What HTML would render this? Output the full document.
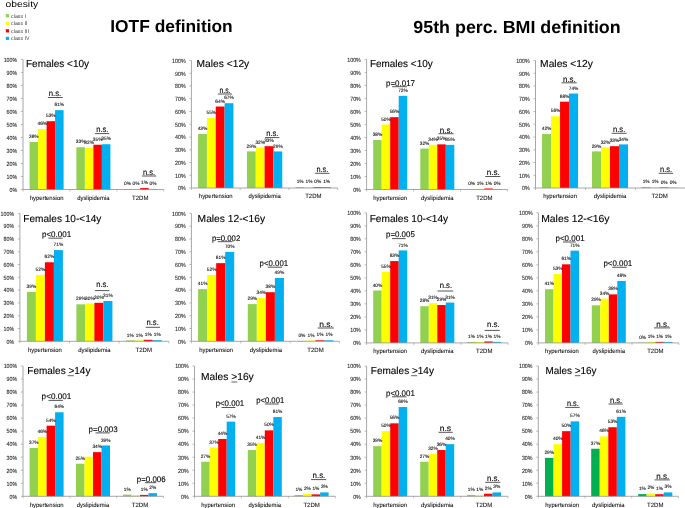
<!DOCTYPE html>
<html><head><meta charset="utf-8"><title>Obesity comorbidities</title>
<style>
html,body{margin:0;padding:0;background:#fff;}
body{width:685px;height:508px;overflow:hidden;font-family:"Liberation Sans",sans-serif;}
svg{display:block;}
svg text{font-family:"Liberation Sans",sans-serif;text-rendering:geometricPrecision;}
</style></head><body>
<svg width="685" height="508" viewBox="0 0 685 508">
<rect x="0" y="0" width="685" height="508" fill="#ffffff"/>
<g style="will-change:transform">
<rect x="29.60" y="142.01" width="8.50" height="47.49" fill="#92d050"/>
<rect x="38.10" y="129.00" width="8.50" height="60.50" fill="#ffff00"/>
<rect x="46.60" y="121.20" width="8.50" height="68.30" fill="#ff0000"/>
<rect x="55.10" y="110.14" width="8.50" height="79.36" fill="#00b0f0"/>
<rect x="76.40" y="147.22" width="8.50" height="42.28" fill="#92d050"/>
<rect x="84.90" y="147.87" width="8.50" height="41.63" fill="#ffff00"/>
<rect x="93.40" y="144.75" width="8.50" height="44.75" fill="#ff0000"/>
<rect x="101.90" y="144.23" width="8.50" height="45.27" fill="#00b0f0"/>
<rect x="123.20" y="189.11" width="8.50" height="0.39" fill="#92d050"/>
<rect x="131.70" y="189.11" width="8.50" height="0.39" fill="#ffff00"/>
<rect x="140.20" y="188.07" width="8.50" height="1.43" fill="#ff0000"/>
<rect x="148.70" y="189.24" width="8.50" height="0.26" fill="#00b0f0"/>
<line x1="23.00" y1="59.40" x2="23.00" y2="189.50" stroke="#909090" stroke-width="0.8"/>
<line x1="23.00" y1="189.50" x2="163.80" y2="189.50" stroke="#909090" stroke-width="0.8"/>
<line x1="20.90" y1="189.50" x2="23.00" y2="189.50" stroke="#909090" stroke-width="0.6"/>
<text x="9.54" y="192.00" font-size="6.0" fill="#222" textLength="7.66" lengthAdjust="spacingAndGlyphs" stroke="#222" stroke-width="0.08">0%</text>
<line x1="20.90" y1="176.49" x2="23.00" y2="176.49" stroke="#909090" stroke-width="0.6"/>
<text x="6.59" y="179.00" font-size="6.0" fill="#222" textLength="10.61" lengthAdjust="spacingAndGlyphs" stroke="#222" stroke-width="0.08">10%</text>
<line x1="20.90" y1="163.48" x2="23.00" y2="163.48" stroke="#909090" stroke-width="0.6"/>
<text x="6.59" y="166.00" font-size="6.0" fill="#222" textLength="10.61" lengthAdjust="spacingAndGlyphs" stroke="#222" stroke-width="0.08">20%</text>
<line x1="20.90" y1="150.47" x2="23.00" y2="150.47" stroke="#909090" stroke-width="0.6"/>
<text x="6.59" y="153.00" font-size="6.0" fill="#222" textLength="10.61" lengthAdjust="spacingAndGlyphs" stroke="#222" stroke-width="0.08">30%</text>
<line x1="20.90" y1="137.46" x2="23.00" y2="137.46" stroke="#909090" stroke-width="0.6"/>
<text x="6.59" y="140.00" font-size="6.0" fill="#222" textLength="10.61" lengthAdjust="spacingAndGlyphs" stroke="#222" stroke-width="0.08">40%</text>
<line x1="20.90" y1="124.45" x2="23.00" y2="124.45" stroke="#909090" stroke-width="0.6"/>
<text x="6.59" y="127.00" font-size="6.0" fill="#222" textLength="10.61" lengthAdjust="spacingAndGlyphs" stroke="#222" stroke-width="0.08">50%</text>
<line x1="20.90" y1="111.44" x2="23.00" y2="111.44" stroke="#909090" stroke-width="0.6"/>
<text x="6.59" y="114.00" font-size="6.0" fill="#222" textLength="10.61" lengthAdjust="spacingAndGlyphs" stroke="#222" stroke-width="0.08">60%</text>
<line x1="20.90" y1="98.43" x2="23.00" y2="98.43" stroke="#909090" stroke-width="0.6"/>
<text x="6.59" y="101.00" font-size="6.0" fill="#222" textLength="10.61" lengthAdjust="spacingAndGlyphs" stroke="#222" stroke-width="0.08">70%</text>
<line x1="20.90" y1="85.42" x2="23.00" y2="85.42" stroke="#909090" stroke-width="0.6"/>
<text x="6.59" y="88.00" font-size="6.0" fill="#222" textLength="10.61" lengthAdjust="spacingAndGlyphs" stroke="#222" stroke-width="0.08">80%</text>
<line x1="20.90" y1="72.41" x2="23.00" y2="72.41" stroke="#909090" stroke-width="0.6"/>
<text x="6.59" y="75.00" font-size="6.0" fill="#222" textLength="10.61" lengthAdjust="spacingAndGlyphs" stroke="#222" stroke-width="0.08">90%</text>
<line x1="20.90" y1="59.40" x2="23.00" y2="59.40" stroke="#909090" stroke-width="0.6"/>
<text x="3.65" y="62.00" font-size="6.0" fill="#222" textLength="13.55" lengthAdjust="spacingAndGlyphs" stroke="#222" stroke-width="0.08">100%</text>
<line x1="23.00" y1="189.50" x2="23.00" y2="191.50" stroke="#909090" stroke-width="0.6"/>
<line x1="69.93" y1="189.50" x2="69.93" y2="191.50" stroke="#909090" stroke-width="0.6"/>
<line x1="116.87" y1="189.50" x2="116.87" y2="191.50" stroke="#909090" stroke-width="0.6"/>
<line x1="163.80" y1="189.50" x2="163.80" y2="191.50" stroke="#909090" stroke-width="0.6"/>
<text x="29.70" y="199.80" font-size="6.2" fill="#111" textLength="33.80" lengthAdjust="spacingAndGlyphs" stroke="#111" stroke-width="0.08">hypertension</text>
<text x="77.20" y="199.80" font-size="6.2" fill="#111" textLength="32.40" lengthAdjust="spacingAndGlyphs" stroke="#111" stroke-width="0.08">dyslipidemia</text>
<text x="132.00" y="199.80" font-size="6.2" fill="#111" textLength="16.40" lengthAdjust="spacingAndGlyphs" stroke="#111" stroke-width="0.08">T2DM</text>
<text x="33.85" y="138.11" font-size="4.8" fill="#111" text-anchor="middle" stroke="#111" stroke-width="0.1">36%</text>
<text x="42.35" y="125.10" font-size="4.8" fill="#111" text-anchor="middle" stroke="#111" stroke-width="0.1">46%</text>
<text x="50.85" y="117.30" font-size="4.8" fill="#111" text-anchor="middle" stroke="#111" stroke-width="0.1">53%</text>
<text x="59.35" y="106.24" font-size="4.8" fill="#111" text-anchor="middle" stroke="#111" stroke-width="0.1">61%</text>
<text x="80.65" y="143.32" font-size="4.8" fill="#111" text-anchor="middle" stroke="#111" stroke-width="0.1">33%</text>
<text x="89.15" y="143.97" font-size="4.8" fill="#111" text-anchor="middle" stroke="#111" stroke-width="0.1">32%</text>
<text x="97.65" y="140.85" font-size="4.8" fill="#111" text-anchor="middle" stroke="#111" stroke-width="0.1">35%</text>
<text x="106.15" y="140.33" font-size="4.8" fill="#111" text-anchor="middle" stroke="#111" stroke-width="0.1">35%</text>
<text x="127.45" y="185.21" font-size="4.8" fill="#111" text-anchor="middle" stroke="#111" stroke-width="0.1">0%</text>
<text x="135.95" y="185.21" font-size="4.8" fill="#111" text-anchor="middle" stroke="#111" stroke-width="0.1">0%</text>
<text x="144.45" y="184.17" font-size="4.8" fill="#111" text-anchor="middle" stroke="#111" stroke-width="0.1">1%</text>
<text x="152.95" y="185.34" font-size="4.8" fill="#111" text-anchor="middle" stroke="#111" stroke-width="0.1">0%</text>
<text x="26.00" y="67.00" font-size="10.2" fill="#000" textLength="63.10" lengthAdjust="spacingAndGlyphs" stroke="#000" stroke-width="0.12">Females &lt;10y</text>
<text x="48.70" y="96.35" font-size="8.2" fill="#000" textLength="12.50" lengthAdjust="spacingAndGlyphs" stroke="#000" stroke-width="0.12">n.s.</text>
<line x1="47.90" y1="97.50" x2="62.70" y2="97.50" stroke="#2a2a2a" stroke-width="0.8"/>
<text x="96.20" y="132.45" font-size="8.2" fill="#000" textLength="12.30" lengthAdjust="spacingAndGlyphs" stroke="#000" stroke-width="0.12">n.s.</text>
<line x1="95.00" y1="133.60" x2="109.30" y2="133.60" stroke="#2a2a2a" stroke-width="0.8"/>
<text x="142.90" y="174.85" font-size="8.2" fill="#000" textLength="12.10" lengthAdjust="spacingAndGlyphs" stroke="#000" stroke-width="0.12">n.s.</text>
<line x1="141.90" y1="176.00" x2="156.20" y2="176.00" stroke="#2a2a2a" stroke-width="0.8"/>
<rect x="198.10" y="134.07" width="8.83" height="53.93" fill="#92d050"/>
<rect x="206.93" y="118.00" width="8.83" height="70.00" fill="#ffff00"/>
<rect x="215.76" y="106.53" width="8.83" height="81.47" fill="#ff0000"/>
<rect x="224.59" y="103.21" width="8.83" height="84.79" fill="#00b0f0"/>
<rect x="246.95" y="151.41" width="8.83" height="36.59" fill="#92d050"/>
<rect x="255.78" y="147.45" width="8.83" height="40.55" fill="#ffff00"/>
<rect x="264.61" y="146.18" width="8.83" height="41.82" fill="#ff0000"/>
<rect x="273.44" y="151.41" width="8.83" height="36.59" fill="#00b0f0"/>
<rect x="295.70" y="187.11" width="8.83" height="0.89" fill="#92d050"/>
<rect x="304.53" y="187.11" width="8.83" height="0.89" fill="#ffff00"/>
<rect x="313.36" y="187.24" width="8.83" height="0.77" fill="#ff0000"/>
<rect x="322.19" y="187.11" width="8.83" height="0.89" fill="#00b0f0"/>
<line x1="191.40" y1="60.50" x2="191.40" y2="188.00" stroke="#909090" stroke-width="0.8"/>
<line x1="191.40" y1="188.00" x2="337.70" y2="188.00" stroke="#909090" stroke-width="0.8"/>
<line x1="189.30" y1="188.00" x2="191.40" y2="188.00" stroke="#909090" stroke-width="0.6"/>
<text x="177.94" y="190.00" font-size="6.0" fill="#222" textLength="7.66" lengthAdjust="spacingAndGlyphs" stroke="#222" stroke-width="0.08">0%</text>
<line x1="189.30" y1="175.25" x2="191.40" y2="175.25" stroke="#909090" stroke-width="0.6"/>
<text x="174.99" y="178.00" font-size="6.0" fill="#222" textLength="10.61" lengthAdjust="spacingAndGlyphs" stroke="#222" stroke-width="0.08">10%</text>
<line x1="189.30" y1="162.50" x2="191.40" y2="162.50" stroke="#909090" stroke-width="0.6"/>
<text x="174.99" y="165.00" font-size="6.0" fill="#222" textLength="10.61" lengthAdjust="spacingAndGlyphs" stroke="#222" stroke-width="0.08">20%</text>
<line x1="189.30" y1="149.75" x2="191.40" y2="149.75" stroke="#909090" stroke-width="0.6"/>
<text x="174.99" y="152.00" font-size="6.0" fill="#222" textLength="10.61" lengthAdjust="spacingAndGlyphs" stroke="#222" stroke-width="0.08">30%</text>
<line x1="189.30" y1="137.00" x2="191.40" y2="137.00" stroke="#909090" stroke-width="0.6"/>
<text x="174.99" y="139.00" font-size="6.0" fill="#222" textLength="10.61" lengthAdjust="spacingAndGlyphs" stroke="#222" stroke-width="0.08">40%</text>
<line x1="189.30" y1="124.25" x2="191.40" y2="124.25" stroke="#909090" stroke-width="0.6"/>
<text x="174.99" y="127.00" font-size="6.0" fill="#222" textLength="10.61" lengthAdjust="spacingAndGlyphs" stroke="#222" stroke-width="0.08">50%</text>
<line x1="189.30" y1="111.50" x2="191.40" y2="111.50" stroke="#909090" stroke-width="0.6"/>
<text x="174.99" y="114.00" font-size="6.0" fill="#222" textLength="10.61" lengthAdjust="spacingAndGlyphs" stroke="#222" stroke-width="0.08">60%</text>
<line x1="189.30" y1="98.75" x2="191.40" y2="98.75" stroke="#909090" stroke-width="0.6"/>
<text x="174.99" y="101.00" font-size="6.0" fill="#222" textLength="10.61" lengthAdjust="spacingAndGlyphs" stroke="#222" stroke-width="0.08">70%</text>
<line x1="189.30" y1="86.00" x2="191.40" y2="86.00" stroke="#909090" stroke-width="0.6"/>
<text x="174.99" y="88.00" font-size="6.0" fill="#222" textLength="10.61" lengthAdjust="spacingAndGlyphs" stroke="#222" stroke-width="0.08">80%</text>
<line x1="189.30" y1="73.25" x2="191.40" y2="73.25" stroke="#909090" stroke-width="0.6"/>
<text x="174.99" y="76.00" font-size="6.0" fill="#222" textLength="10.61" lengthAdjust="spacingAndGlyphs" stroke="#222" stroke-width="0.08">90%</text>
<line x1="189.30" y1="60.50" x2="191.40" y2="60.50" stroke="#909090" stroke-width="0.6"/>
<text x="172.05" y="63.00" font-size="6.0" fill="#222" textLength="13.55" lengthAdjust="spacingAndGlyphs" stroke="#222" stroke-width="0.08">100%</text>
<line x1="191.40" y1="188.00" x2="191.40" y2="190.00" stroke="#909090" stroke-width="0.6"/>
<line x1="240.17" y1="188.00" x2="240.17" y2="190.00" stroke="#909090" stroke-width="0.6"/>
<line x1="288.93" y1="188.00" x2="288.93" y2="190.00" stroke="#909090" stroke-width="0.6"/>
<line x1="337.70" y1="188.00" x2="337.70" y2="190.00" stroke="#909090" stroke-width="0.6"/>
<text x="198.86" y="198.30" font-size="6.2" fill="#111" textLength="33.80" lengthAdjust="spacingAndGlyphs" stroke="#111" stroke-width="0.08">hypertension</text>
<text x="248.41" y="198.30" font-size="6.2" fill="#111" textLength="32.40" lengthAdjust="spacingAndGlyphs" stroke="#111" stroke-width="0.08">dyslipidemia</text>
<text x="305.16" y="198.30" font-size="6.2" fill="#111" textLength="16.40" lengthAdjust="spacingAndGlyphs" stroke="#111" stroke-width="0.08">T2DM</text>
<text x="202.51" y="130.17" font-size="4.8" fill="#111" text-anchor="middle" stroke="#111" stroke-width="0.1">43%</text>
<text x="211.34" y="114.10" font-size="4.8" fill="#111" text-anchor="middle" stroke="#111" stroke-width="0.1">55%</text>
<text x="220.17" y="102.63" font-size="4.8" fill="#111" text-anchor="middle" stroke="#111" stroke-width="0.1">64%</text>
<text x="229.00" y="99.31" font-size="4.8" fill="#111" text-anchor="middle" stroke="#111" stroke-width="0.1">67%</text>
<text x="251.36" y="147.51" font-size="4.8" fill="#111" text-anchor="middle" stroke="#111" stroke-width="0.1">29%</text>
<text x="260.19" y="143.55" font-size="4.8" fill="#111" text-anchor="middle" stroke="#111" stroke-width="0.1">32%</text>
<text x="269.02" y="142.28" font-size="4.8" fill="#111" text-anchor="middle" stroke="#111" stroke-width="0.1">33%</text>
<text x="277.86" y="147.51" font-size="4.8" fill="#111" text-anchor="middle" stroke="#111" stroke-width="0.1">29%</text>
<text x="300.12" y="183.21" font-size="4.8" fill="#111" text-anchor="middle" stroke="#111" stroke-width="0.1">1%</text>
<text x="308.94" y="183.21" font-size="4.8" fill="#111" text-anchor="middle" stroke="#111" stroke-width="0.1">1%</text>
<text x="317.77" y="183.34" font-size="4.8" fill="#111" text-anchor="middle" stroke="#111" stroke-width="0.1">0%</text>
<text x="326.61" y="183.21" font-size="4.8" fill="#111" text-anchor="middle" stroke="#111" stroke-width="0.1">1%</text>
<text x="196.60" y="67.00" font-size="10.2" fill="#000" textLength="52.60" lengthAdjust="spacingAndGlyphs" stroke="#000" stroke-width="0.12">Males &lt;12y</text>
<text x="219.40" y="92.85" font-size="8.2" fill="#000" textLength="11.10" lengthAdjust="spacingAndGlyphs" stroke="#000" stroke-width="0.12">n.s.</text>
<line x1="217.90" y1="94.00" x2="232.00" y2="94.00" stroke="#2a2a2a" stroke-width="0.8"/>
<text x="266.20" y="136.45" font-size="8.2" fill="#000" textLength="12.30" lengthAdjust="spacingAndGlyphs" stroke="#000" stroke-width="0.12">n.s.</text>
<line x1="265.00" y1="137.60" x2="279.30" y2="137.60" stroke="#2a2a2a" stroke-width="0.8"/>
<text x="316.50" y="172.15" font-size="8.2" fill="#000" textLength="11.80" lengthAdjust="spacingAndGlyphs" stroke="#000" stroke-width="0.12">n.s.</text>
<line x1="315.20" y1="173.30" x2="329.50" y2="173.30" stroke="#2a2a2a" stroke-width="0.8"/>
<rect x="373.20" y="140.06" width="8.50" height="49.44" fill="#92d050"/>
<rect x="381.70" y="124.45" width="8.50" height="65.05" fill="#ffff00"/>
<rect x="390.20" y="117.16" width="8.50" height="72.34" fill="#ff0000"/>
<rect x="398.70" y="95.83" width="8.50" height="93.67" fill="#00b0f0"/>
<rect x="420.30" y="148.52" width="8.50" height="40.98" fill="#92d050"/>
<rect x="428.80" y="144.88" width="8.50" height="44.62" fill="#ffff00"/>
<rect x="437.30" y="144.36" width="8.50" height="45.14" fill="#ff0000"/>
<rect x="445.80" y="144.88" width="8.50" height="44.62" fill="#00b0f0"/>
<rect x="467.40" y="189.24" width="8.50" height="0.26" fill="#92d050"/>
<rect x="475.90" y="188.85" width="8.50" height="0.65" fill="#ffff00"/>
<rect x="484.40" y="188.46" width="8.50" height="1.04" fill="#ff0000"/>
<rect x="492.90" y="189.24" width="8.50" height="0.26" fill="#00b0f0"/>
<line x1="366.60" y1="59.40" x2="366.60" y2="189.50" stroke="#909090" stroke-width="0.8"/>
<line x1="366.60" y1="189.50" x2="507.60" y2="189.50" stroke="#909090" stroke-width="0.8"/>
<line x1="364.50" y1="189.50" x2="366.60" y2="189.50" stroke="#909090" stroke-width="0.6"/>
<text x="353.14" y="192.00" font-size="6.0" fill="#222" textLength="7.66" lengthAdjust="spacingAndGlyphs" stroke="#222" stroke-width="0.08">0%</text>
<line x1="364.50" y1="176.49" x2="366.60" y2="176.49" stroke="#909090" stroke-width="0.6"/>
<text x="350.19" y="179.00" font-size="6.0" fill="#222" textLength="10.61" lengthAdjust="spacingAndGlyphs" stroke="#222" stroke-width="0.08">10%</text>
<line x1="364.50" y1="163.48" x2="366.60" y2="163.48" stroke="#909090" stroke-width="0.6"/>
<text x="350.19" y="166.00" font-size="6.0" fill="#222" textLength="10.61" lengthAdjust="spacingAndGlyphs" stroke="#222" stroke-width="0.08">20%</text>
<line x1="364.50" y1="150.47" x2="366.60" y2="150.47" stroke="#909090" stroke-width="0.6"/>
<text x="350.19" y="153.00" font-size="6.0" fill="#222" textLength="10.61" lengthAdjust="spacingAndGlyphs" stroke="#222" stroke-width="0.08">30%</text>
<line x1="364.50" y1="137.46" x2="366.60" y2="137.46" stroke="#909090" stroke-width="0.6"/>
<text x="350.19" y="140.00" font-size="6.0" fill="#222" textLength="10.61" lengthAdjust="spacingAndGlyphs" stroke="#222" stroke-width="0.08">40%</text>
<line x1="364.50" y1="124.45" x2="366.60" y2="124.45" stroke="#909090" stroke-width="0.6"/>
<text x="350.19" y="127.00" font-size="6.0" fill="#222" textLength="10.61" lengthAdjust="spacingAndGlyphs" stroke="#222" stroke-width="0.08">50%</text>
<line x1="364.50" y1="111.44" x2="366.60" y2="111.44" stroke="#909090" stroke-width="0.6"/>
<text x="350.19" y="114.00" font-size="6.0" fill="#222" textLength="10.61" lengthAdjust="spacingAndGlyphs" stroke="#222" stroke-width="0.08">60%</text>
<line x1="364.50" y1="98.43" x2="366.60" y2="98.43" stroke="#909090" stroke-width="0.6"/>
<text x="350.19" y="101.00" font-size="6.0" fill="#222" textLength="10.61" lengthAdjust="spacingAndGlyphs" stroke="#222" stroke-width="0.08">70%</text>
<line x1="364.50" y1="85.42" x2="366.60" y2="85.42" stroke="#909090" stroke-width="0.6"/>
<text x="350.19" y="88.00" font-size="6.0" fill="#222" textLength="10.61" lengthAdjust="spacingAndGlyphs" stroke="#222" stroke-width="0.08">80%</text>
<line x1="364.50" y1="72.41" x2="366.60" y2="72.41" stroke="#909090" stroke-width="0.6"/>
<text x="350.19" y="75.00" font-size="6.0" fill="#222" textLength="10.61" lengthAdjust="spacingAndGlyphs" stroke="#222" stroke-width="0.08">90%</text>
<line x1="364.50" y1="59.40" x2="366.60" y2="59.40" stroke="#909090" stroke-width="0.6"/>
<text x="347.25" y="62.00" font-size="6.0" fill="#222" textLength="13.55" lengthAdjust="spacingAndGlyphs" stroke="#222" stroke-width="0.08">100%</text>
<line x1="366.60" y1="189.50" x2="366.60" y2="191.50" stroke="#909090" stroke-width="0.6"/>
<line x1="413.60" y1="189.50" x2="413.60" y2="191.50" stroke="#909090" stroke-width="0.6"/>
<line x1="460.60" y1="189.50" x2="460.60" y2="191.50" stroke="#909090" stroke-width="0.6"/>
<line x1="507.60" y1="189.50" x2="507.60" y2="191.50" stroke="#909090" stroke-width="0.6"/>
<text x="373.30" y="199.80" font-size="6.2" fill="#111" textLength="33.80" lengthAdjust="spacingAndGlyphs" stroke="#111" stroke-width="0.08">hypertension</text>
<text x="421.10" y="199.80" font-size="6.2" fill="#111" textLength="32.40" lengthAdjust="spacingAndGlyphs" stroke="#111" stroke-width="0.08">dyslipidemia</text>
<text x="476.20" y="199.80" font-size="6.2" fill="#111" textLength="16.40" lengthAdjust="spacingAndGlyphs" stroke="#111" stroke-width="0.08">T2DM</text>
<text x="377.45" y="136.16" font-size="4.8" fill="#111" text-anchor="middle" stroke="#111" stroke-width="0.1">38%</text>
<text x="385.95" y="120.55" font-size="4.8" fill="#111" text-anchor="middle" stroke="#111" stroke-width="0.1">50%</text>
<text x="394.45" y="113.26" font-size="4.8" fill="#111" text-anchor="middle" stroke="#111" stroke-width="0.1">56%</text>
<text x="402.95" y="91.93" font-size="4.8" fill="#111" text-anchor="middle" stroke="#111" stroke-width="0.1">72%</text>
<text x="424.55" y="144.62" font-size="4.8" fill="#111" text-anchor="middle" stroke="#111" stroke-width="0.1">32%</text>
<text x="433.05" y="140.98" font-size="4.8" fill="#111" text-anchor="middle" stroke="#111" stroke-width="0.1">34%</text>
<text x="441.55" y="140.46" font-size="4.8" fill="#111" text-anchor="middle" stroke="#111" stroke-width="0.1">35%</text>
<text x="450.05" y="140.98" font-size="4.8" fill="#111" text-anchor="middle" stroke="#111" stroke-width="0.1">35%</text>
<text x="471.65" y="185.34" font-size="4.8" fill="#111" text-anchor="middle" stroke="#111" stroke-width="0.1">0%</text>
<text x="480.15" y="184.95" font-size="4.8" fill="#111" text-anchor="middle" stroke="#111" stroke-width="0.1">1%</text>
<text x="488.65" y="184.56" font-size="4.8" fill="#111" text-anchor="middle" stroke="#111" stroke-width="0.1">1%</text>
<text x="497.15" y="185.34" font-size="4.8" fill="#111" text-anchor="middle" stroke="#111" stroke-width="0.1">0%</text>
<text x="369.90" y="67.00" font-size="10.2" fill="#000" textLength="62.80" lengthAdjust="spacingAndGlyphs" stroke="#000" stroke-width="0.12">Females &lt;10y</text>
<text x="386.00" y="85.55" font-size="8.2" fill="#000" textLength="29.00" lengthAdjust="spacingAndGlyphs" stroke="#000" stroke-width="0.12">p=0.017</text>
<line x1="392.10" y1="86.70" x2="406.90" y2="86.70" stroke="#2a2a2a" stroke-width="0.8"/>
<text x="439.70" y="132.55" font-size="8.2" fill="#000" textLength="13.00" lengthAdjust="spacingAndGlyphs" stroke="#000" stroke-width="0.12">n.s.</text>
<line x1="438.50" y1="133.70" x2="453.60" y2="133.70" stroke="#2a2a2a" stroke-width="0.8"/>
<text x="486.70" y="175.35" font-size="8.2" fill="#000" textLength="13.00" lengthAdjust="spacingAndGlyphs" stroke="#000" stroke-width="0.12">n.s.</text>
<line x1="485.20" y1="176.50" x2="500.30" y2="176.50" stroke="#2a2a2a" stroke-width="0.8"/>
<rect x="542.05" y="134.07" width="9.00" height="53.93" fill="#92d050"/>
<rect x="551.05" y="116.22" width="9.00" height="71.78" fill="#ffff00"/>
<rect x="560.05" y="101.68" width="9.00" height="86.32" fill="#ff0000"/>
<rect x="569.05" y="93.52" width="9.00" height="94.48" fill="#00b0f0"/>
<rect x="592.00" y="151.41" width="9.00" height="36.59" fill="#92d050"/>
<rect x="601.00" y="147.45" width="9.00" height="40.55" fill="#ffff00"/>
<rect x="610.00" y="146.18" width="9.00" height="41.82" fill="#ff0000"/>
<rect x="619.00" y="144.40" width="9.00" height="43.60" fill="#00b0f0"/>
<rect x="641.60" y="186.98" width="9.00" height="1.02" fill="#92d050"/>
<rect x="650.60" y="187.24" width="9.00" height="0.77" fill="#ffff00"/>
<rect x="659.60" y="187.49" width="9.00" height="0.51" fill="#ff0000"/>
<rect x="668.60" y="187.75" width="9.00" height="0.26" fill="#00b0f0"/>
<line x1="535.50" y1="60.50" x2="535.50" y2="188.00" stroke="#909090" stroke-width="0.8"/>
<line x1="535.50" y1="188.00" x2="685.30" y2="188.00" stroke="#909090" stroke-width="0.8"/>
<line x1="533.40" y1="188.00" x2="535.50" y2="188.00" stroke="#909090" stroke-width="0.6"/>
<text x="522.04" y="190.00" font-size="6.0" fill="#222" textLength="7.66" lengthAdjust="spacingAndGlyphs" stroke="#222" stroke-width="0.08">0%</text>
<line x1="533.40" y1="175.25" x2="535.50" y2="175.25" stroke="#909090" stroke-width="0.6"/>
<text x="519.09" y="178.00" font-size="6.0" fill="#222" textLength="10.61" lengthAdjust="spacingAndGlyphs" stroke="#222" stroke-width="0.08">10%</text>
<line x1="533.40" y1="162.50" x2="535.50" y2="162.50" stroke="#909090" stroke-width="0.6"/>
<text x="519.09" y="165.00" font-size="6.0" fill="#222" textLength="10.61" lengthAdjust="spacingAndGlyphs" stroke="#222" stroke-width="0.08">20%</text>
<line x1="533.40" y1="149.75" x2="535.50" y2="149.75" stroke="#909090" stroke-width="0.6"/>
<text x="519.09" y="152.00" font-size="6.0" fill="#222" textLength="10.61" lengthAdjust="spacingAndGlyphs" stroke="#222" stroke-width="0.08">30%</text>
<line x1="533.40" y1="137.00" x2="535.50" y2="137.00" stroke="#909090" stroke-width="0.6"/>
<text x="519.09" y="139.00" font-size="6.0" fill="#222" textLength="10.61" lengthAdjust="spacingAndGlyphs" stroke="#222" stroke-width="0.08">40%</text>
<line x1="533.40" y1="124.25" x2="535.50" y2="124.25" stroke="#909090" stroke-width="0.6"/>
<text x="519.09" y="127.00" font-size="6.0" fill="#222" textLength="10.61" lengthAdjust="spacingAndGlyphs" stroke="#222" stroke-width="0.08">50%</text>
<line x1="533.40" y1="111.50" x2="535.50" y2="111.50" stroke="#909090" stroke-width="0.6"/>
<text x="519.09" y="114.00" font-size="6.0" fill="#222" textLength="10.61" lengthAdjust="spacingAndGlyphs" stroke="#222" stroke-width="0.08">60%</text>
<line x1="533.40" y1="98.75" x2="535.50" y2="98.75" stroke="#909090" stroke-width="0.6"/>
<text x="519.09" y="101.00" font-size="6.0" fill="#222" textLength="10.61" lengthAdjust="spacingAndGlyphs" stroke="#222" stroke-width="0.08">70%</text>
<line x1="533.40" y1="86.00" x2="535.50" y2="86.00" stroke="#909090" stroke-width="0.6"/>
<text x="519.09" y="88.00" font-size="6.0" fill="#222" textLength="10.61" lengthAdjust="spacingAndGlyphs" stroke="#222" stroke-width="0.08">80%</text>
<line x1="533.40" y1="73.25" x2="535.50" y2="73.25" stroke="#909090" stroke-width="0.6"/>
<text x="519.09" y="76.00" font-size="6.0" fill="#222" textLength="10.61" lengthAdjust="spacingAndGlyphs" stroke="#222" stroke-width="0.08">90%</text>
<line x1="533.40" y1="60.50" x2="535.50" y2="60.50" stroke="#909090" stroke-width="0.6"/>
<text x="516.15" y="63.00" font-size="6.0" fill="#222" textLength="13.55" lengthAdjust="spacingAndGlyphs" stroke="#222" stroke-width="0.08">100%</text>
<line x1="535.50" y1="188.00" x2="535.50" y2="190.00" stroke="#909090" stroke-width="0.6"/>
<line x1="585.43" y1="188.00" x2="585.43" y2="190.00" stroke="#909090" stroke-width="0.6"/>
<line x1="635.37" y1="188.00" x2="635.37" y2="190.00" stroke="#909090" stroke-width="0.6"/>
<line x1="685.30" y1="188.00" x2="685.30" y2="190.00" stroke="#909090" stroke-width="0.6"/>
<text x="543.15" y="198.30" font-size="6.2" fill="#111" textLength="33.80" lengthAdjust="spacingAndGlyphs" stroke="#111" stroke-width="0.08">hypertension</text>
<text x="593.80" y="198.30" font-size="6.2" fill="#111" textLength="32.40" lengthAdjust="spacingAndGlyphs" stroke="#111" stroke-width="0.08">dyslipidemia</text>
<text x="651.40" y="198.30" font-size="6.2" fill="#111" textLength="16.40" lengthAdjust="spacingAndGlyphs" stroke="#111" stroke-width="0.08">T2DM</text>
<text x="546.55" y="130.17" font-size="4.8" fill="#111" text-anchor="middle" stroke="#111" stroke-width="0.1">42%</text>
<text x="555.55" y="112.32" font-size="4.8" fill="#111" text-anchor="middle" stroke="#111" stroke-width="0.1">56%</text>
<text x="564.55" y="97.78" font-size="4.8" fill="#111" text-anchor="middle" stroke="#111" stroke-width="0.1">68%</text>
<text x="573.55" y="89.62" font-size="4.8" fill="#111" text-anchor="middle" stroke="#111" stroke-width="0.1">74%</text>
<text x="596.50" y="147.51" font-size="4.8" fill="#111" text-anchor="middle" stroke="#111" stroke-width="0.1">29%</text>
<text x="605.50" y="143.55" font-size="4.8" fill="#111" text-anchor="middle" stroke="#111" stroke-width="0.1">32%</text>
<text x="614.50" y="142.28" font-size="4.8" fill="#111" text-anchor="middle" stroke="#111" stroke-width="0.1">33%</text>
<text x="623.50" y="140.50" font-size="4.8" fill="#111" text-anchor="middle" stroke="#111" stroke-width="0.1">34%</text>
<text x="646.10" y="183.08" font-size="4.8" fill="#111" text-anchor="middle" stroke="#111" stroke-width="0.1">1%</text>
<text x="655.10" y="183.34" font-size="4.8" fill="#111" text-anchor="middle" stroke="#111" stroke-width="0.1">1%</text>
<text x="664.10" y="183.59" font-size="4.8" fill="#111" text-anchor="middle" stroke="#111" stroke-width="0.1">0%</text>
<text x="673.10" y="183.84" font-size="4.8" fill="#111" text-anchor="middle" stroke="#111" stroke-width="0.1">0%</text>
<text x="540.10" y="67.00" font-size="10.2" fill="#000" textLength="52.80" lengthAdjust="spacingAndGlyphs" stroke="#000" stroke-width="0.12">Males &lt;12y</text>
<text x="563.00" y="81.65" font-size="8.2" fill="#000" textLength="12.80" lengthAdjust="spacingAndGlyphs" stroke="#000" stroke-width="0.12">n.s.</text>
<line x1="561.50" y1="82.80" x2="576.70" y2="82.80" stroke="#2a2a2a" stroke-width="0.8"/>
<text x="613.00" y="132.15" font-size="8.2" fill="#000" textLength="12.30" lengthAdjust="spacingAndGlyphs" stroke="#000" stroke-width="0.12">n.s.</text>
<line x1="611.70" y1="133.30" x2="626.60" y2="133.30" stroke="#2a2a2a" stroke-width="0.8"/>
<text x="660.00" y="172.15" font-size="8.2" fill="#000" textLength="12.00" lengthAdjust="spacingAndGlyphs" stroke="#000" stroke-width="0.12">n.s.</text>
<line x1="658.70" y1="173.30" x2="673.00" y2="173.30" stroke="#2a2a2a" stroke-width="0.8"/>
<rect x="26.90" y="291.93" width="9.00" height="49.37" fill="#92d050"/>
<rect x="35.90" y="274.92" width="9.00" height="66.38" fill="#ffff00"/>
<rect x="44.90" y="262.26" width="9.00" height="79.04" fill="#ff0000"/>
<rect x="53.90" y="250.11" width="9.00" height="91.19" fill="#00b0f0"/>
<rect x="76.40" y="304.34" width="9.00" height="36.96" fill="#92d050"/>
<rect x="85.40" y="303.44" width="9.00" height="37.86" fill="#ffff00"/>
<rect x="94.40" y="302.80" width="9.00" height="38.50" fill="#ff0000"/>
<rect x="103.40" y="301.01" width="9.00" height="40.29" fill="#00b0f0"/>
<rect x="125.70" y="340.40" width="9.00" height="0.90" fill="#92d050"/>
<rect x="134.70" y="340.40" width="9.00" height="0.90" fill="#ffff00"/>
<rect x="143.70" y="339.77" width="9.00" height="1.53" fill="#ff0000"/>
<rect x="152.70" y="340.15" width="9.00" height="1.15" fill="#00b0f0"/>
<line x1="19.90" y1="213.40" x2="19.90" y2="341.30" stroke="#909090" stroke-width="0.8"/>
<line x1="19.90" y1="341.30" x2="168.80" y2="341.30" stroke="#909090" stroke-width="0.8"/>
<line x1="17.80" y1="341.30" x2="19.90" y2="341.30" stroke="#909090" stroke-width="0.6"/>
<text x="6.44" y="344.00" font-size="6.0" fill="#222" textLength="7.66" lengthAdjust="spacingAndGlyphs" stroke="#222" stroke-width="0.08">0%</text>
<line x1="17.80" y1="328.51" x2="19.90" y2="328.51" stroke="#909090" stroke-width="0.6"/>
<text x="3.49" y="331.00" font-size="6.0" fill="#222" textLength="10.61" lengthAdjust="spacingAndGlyphs" stroke="#222" stroke-width="0.08">10%</text>
<line x1="17.80" y1="315.72" x2="19.90" y2="315.72" stroke="#909090" stroke-width="0.6"/>
<text x="3.49" y="318.00" font-size="6.0" fill="#222" textLength="10.61" lengthAdjust="spacingAndGlyphs" stroke="#222" stroke-width="0.08">20%</text>
<line x1="17.80" y1="302.93" x2="19.90" y2="302.93" stroke="#909090" stroke-width="0.6"/>
<text x="3.49" y="305.00" font-size="6.0" fill="#222" textLength="10.61" lengthAdjust="spacingAndGlyphs" stroke="#222" stroke-width="0.08">30%</text>
<line x1="17.80" y1="290.14" x2="19.90" y2="290.14" stroke="#909090" stroke-width="0.6"/>
<text x="3.49" y="292.00" font-size="6.0" fill="#222" textLength="10.61" lengthAdjust="spacingAndGlyphs" stroke="#222" stroke-width="0.08">40%</text>
<line x1="17.80" y1="277.35" x2="19.90" y2="277.35" stroke="#909090" stroke-width="0.6"/>
<text x="3.49" y="280.00" font-size="6.0" fill="#222" textLength="10.61" lengthAdjust="spacingAndGlyphs" stroke="#222" stroke-width="0.08">50%</text>
<line x1="17.80" y1="264.56" x2="19.90" y2="264.56" stroke="#909090" stroke-width="0.6"/>
<text x="3.49" y="267.00" font-size="6.0" fill="#222" textLength="10.61" lengthAdjust="spacingAndGlyphs" stroke="#222" stroke-width="0.08">60%</text>
<line x1="17.80" y1="251.77" x2="19.90" y2="251.77" stroke="#909090" stroke-width="0.6"/>
<text x="3.49" y="254.00" font-size="6.0" fill="#222" textLength="10.61" lengthAdjust="spacingAndGlyphs" stroke="#222" stroke-width="0.08">70%</text>
<line x1="17.80" y1="238.98" x2="19.90" y2="238.98" stroke="#909090" stroke-width="0.6"/>
<text x="3.49" y="241.00" font-size="6.0" fill="#222" textLength="10.61" lengthAdjust="spacingAndGlyphs" stroke="#222" stroke-width="0.08">80%</text>
<line x1="17.80" y1="226.19" x2="19.90" y2="226.19" stroke="#909090" stroke-width="0.6"/>
<text x="3.49" y="228.00" font-size="6.0" fill="#222" textLength="10.61" lengthAdjust="spacingAndGlyphs" stroke="#222" stroke-width="0.08">90%</text>
<line x1="17.80" y1="213.40" x2="19.90" y2="213.40" stroke="#909090" stroke-width="0.6"/>
<text x="0.55" y="216.00" font-size="6.0" fill="#222" textLength="13.55" lengthAdjust="spacingAndGlyphs" stroke="#222" stroke-width="0.08">100%</text>
<line x1="19.90" y1="341.30" x2="19.90" y2="343.30" stroke="#909090" stroke-width="0.6"/>
<line x1="69.53" y1="341.30" x2="69.53" y2="343.30" stroke="#909090" stroke-width="0.6"/>
<line x1="119.17" y1="341.30" x2="119.17" y2="343.30" stroke="#909090" stroke-width="0.6"/>
<line x1="168.80" y1="341.30" x2="168.80" y2="343.30" stroke="#909090" stroke-width="0.6"/>
<text x="28.00" y="351.60" font-size="6.2" fill="#111" textLength="33.80" lengthAdjust="spacingAndGlyphs" stroke="#111" stroke-width="0.08">hypertension</text>
<text x="78.20" y="351.60" font-size="6.2" fill="#111" textLength="32.40" lengthAdjust="spacingAndGlyphs" stroke="#111" stroke-width="0.08">dyslipidemia</text>
<text x="135.50" y="351.60" font-size="6.2" fill="#111" textLength="16.40" lengthAdjust="spacingAndGlyphs" stroke="#111" stroke-width="0.08">T2DM</text>
<text x="31.40" y="288.03" font-size="4.8" fill="#111" text-anchor="middle" stroke="#111" stroke-width="0.1">39%</text>
<text x="40.40" y="271.02" font-size="4.8" fill="#111" text-anchor="middle" stroke="#111" stroke-width="0.1">52%</text>
<text x="49.40" y="258.36" font-size="4.8" fill="#111" text-anchor="middle" stroke="#111" stroke-width="0.1">62%</text>
<text x="58.40" y="246.21" font-size="4.8" fill="#111" text-anchor="middle" stroke="#111" stroke-width="0.1">71%</text>
<text x="80.90" y="300.44" font-size="4.8" fill="#111" text-anchor="middle" stroke="#111" stroke-width="0.1">29%</text>
<text x="89.90" y="299.54" font-size="4.8" fill="#111" text-anchor="middle" stroke="#111" stroke-width="0.1">30%</text>
<text x="98.90" y="298.90" font-size="4.8" fill="#111" text-anchor="middle" stroke="#111" stroke-width="0.1">30%</text>
<text x="107.90" y="297.11" font-size="4.8" fill="#111" text-anchor="middle" stroke="#111" stroke-width="0.1">31%</text>
<text x="130.20" y="336.50" font-size="4.8" fill="#111" text-anchor="middle" stroke="#111" stroke-width="0.1">1%</text>
<text x="139.20" y="336.50" font-size="4.8" fill="#111" text-anchor="middle" stroke="#111" stroke-width="0.1">1%</text>
<text x="148.20" y="335.87" font-size="4.8" fill="#111" text-anchor="middle" stroke="#111" stroke-width="0.1">1%</text>
<text x="157.20" y="336.25" font-size="4.8" fill="#111" text-anchor="middle" stroke="#111" stroke-width="0.1">1%</text>
<text x="23.30" y="221.60" font-size="10.2" fill="#000" textLength="78.10" lengthAdjust="spacingAndGlyphs" stroke="#000" stroke-width="0.12">Females 10-&lt;14y</text>
<text x="42.00" y="237.05" font-size="8.2" fill="#000" textLength="29.10" lengthAdjust="spacingAndGlyphs" stroke="#000" stroke-width="0.12">p&lt;0.001</text>
<line x1="48.40" y1="238.20" x2="62.70" y2="238.20" stroke="#2a2a2a" stroke-width="0.8"/>
<text x="96.20" y="287.35" font-size="8.2" fill="#000" textLength="12.30" lengthAdjust="spacingAndGlyphs" stroke="#000" stroke-width="0.12">n.s.</text>
<line x1="95.00" y1="290.60" x2="109.30" y2="290.60" stroke="#2a2a2a" stroke-width="0.8"/>
<text x="146.50" y="324.65" font-size="8.2" fill="#000" textLength="12.30" lengthAdjust="spacingAndGlyphs" stroke="#000" stroke-width="0.12">n.s.</text>
<line x1="145.70" y1="327.30" x2="160.00" y2="327.30" stroke="#2a2a2a" stroke-width="0.8"/>
<rect x="198.10" y="289.12" width="9.03" height="52.18" fill="#92d050"/>
<rect x="207.13" y="274.92" width="9.03" height="66.38" fill="#ffff00"/>
<rect x="216.16" y="263.15" width="9.03" height="78.15" fill="#ff0000"/>
<rect x="225.19" y="251.90" width="9.03" height="89.40" fill="#00b0f0"/>
<rect x="247.80" y="304.08" width="9.03" height="37.22" fill="#92d050"/>
<rect x="256.83" y="297.94" width="9.03" height="43.36" fill="#ffff00"/>
<rect x="265.86" y="292.19" width="9.03" height="49.11" fill="#ff0000"/>
<rect x="274.89" y="277.99" width="9.03" height="63.31" fill="#00b0f0"/>
<rect x="297.40" y="340.92" width="9.03" height="0.38" fill="#92d050"/>
<rect x="306.43" y="340.53" width="9.03" height="0.77" fill="#ffff00"/>
<rect x="315.46" y="340.28" width="9.03" height="1.02" fill="#ff0000"/>
<rect x="324.49" y="340.28" width="9.03" height="1.02" fill="#00b0f0"/>
<line x1="191.40" y1="213.40" x2="191.40" y2="341.30" stroke="#909090" stroke-width="0.8"/>
<line x1="191.40" y1="341.30" x2="339.40" y2="341.30" stroke="#909090" stroke-width="0.8"/>
<line x1="189.30" y1="341.30" x2="191.40" y2="341.30" stroke="#909090" stroke-width="0.6"/>
<text x="177.94" y="344.00" font-size="6.0" fill="#222" textLength="7.66" lengthAdjust="spacingAndGlyphs" stroke="#222" stroke-width="0.08">0%</text>
<line x1="189.30" y1="328.51" x2="191.40" y2="328.51" stroke="#909090" stroke-width="0.6"/>
<text x="174.99" y="331.00" font-size="6.0" fill="#222" textLength="10.61" lengthAdjust="spacingAndGlyphs" stroke="#222" stroke-width="0.08">10%</text>
<line x1="189.30" y1="315.72" x2="191.40" y2="315.72" stroke="#909090" stroke-width="0.6"/>
<text x="174.99" y="318.00" font-size="6.0" fill="#222" textLength="10.61" lengthAdjust="spacingAndGlyphs" stroke="#222" stroke-width="0.08">20%</text>
<line x1="189.30" y1="302.93" x2="191.40" y2="302.93" stroke="#909090" stroke-width="0.6"/>
<text x="174.99" y="305.00" font-size="6.0" fill="#222" textLength="10.61" lengthAdjust="spacingAndGlyphs" stroke="#222" stroke-width="0.08">30%</text>
<line x1="189.30" y1="290.14" x2="191.40" y2="290.14" stroke="#909090" stroke-width="0.6"/>
<text x="174.99" y="292.00" font-size="6.0" fill="#222" textLength="10.61" lengthAdjust="spacingAndGlyphs" stroke="#222" stroke-width="0.08">40%</text>
<line x1="189.30" y1="277.35" x2="191.40" y2="277.35" stroke="#909090" stroke-width="0.6"/>
<text x="174.99" y="280.00" font-size="6.0" fill="#222" textLength="10.61" lengthAdjust="spacingAndGlyphs" stroke="#222" stroke-width="0.08">50%</text>
<line x1="189.30" y1="264.56" x2="191.40" y2="264.56" stroke="#909090" stroke-width="0.6"/>
<text x="174.99" y="267.00" font-size="6.0" fill="#222" textLength="10.61" lengthAdjust="spacingAndGlyphs" stroke="#222" stroke-width="0.08">60%</text>
<line x1="189.30" y1="251.77" x2="191.40" y2="251.77" stroke="#909090" stroke-width="0.6"/>
<text x="174.99" y="254.00" font-size="6.0" fill="#222" textLength="10.61" lengthAdjust="spacingAndGlyphs" stroke="#222" stroke-width="0.08">70%</text>
<line x1="189.30" y1="238.98" x2="191.40" y2="238.98" stroke="#909090" stroke-width="0.6"/>
<text x="174.99" y="241.00" font-size="6.0" fill="#222" textLength="10.61" lengthAdjust="spacingAndGlyphs" stroke="#222" stroke-width="0.08">80%</text>
<line x1="189.30" y1="226.19" x2="191.40" y2="226.19" stroke="#909090" stroke-width="0.6"/>
<text x="174.99" y="228.00" font-size="6.0" fill="#222" textLength="10.61" lengthAdjust="spacingAndGlyphs" stroke="#222" stroke-width="0.08">90%</text>
<line x1="189.30" y1="213.40" x2="191.40" y2="213.40" stroke="#909090" stroke-width="0.6"/>
<text x="172.05" y="216.00" font-size="6.0" fill="#222" textLength="13.55" lengthAdjust="spacingAndGlyphs" stroke="#222" stroke-width="0.08">100%</text>
<line x1="191.40" y1="341.30" x2="191.40" y2="343.30" stroke="#909090" stroke-width="0.6"/>
<line x1="240.73" y1="341.30" x2="240.73" y2="343.30" stroke="#909090" stroke-width="0.6"/>
<line x1="290.07" y1="341.30" x2="290.07" y2="343.30" stroke="#909090" stroke-width="0.6"/>
<line x1="339.40" y1="341.30" x2="339.40" y2="343.30" stroke="#909090" stroke-width="0.6"/>
<text x="199.26" y="351.60" font-size="6.2" fill="#111" textLength="33.80" lengthAdjust="spacingAndGlyphs" stroke="#111" stroke-width="0.08">hypertension</text>
<text x="249.66" y="351.60" font-size="6.2" fill="#111" textLength="32.40" lengthAdjust="spacingAndGlyphs" stroke="#111" stroke-width="0.08">dyslipidemia</text>
<text x="307.26" y="351.60" font-size="6.2" fill="#111" textLength="16.40" lengthAdjust="spacingAndGlyphs" stroke="#111" stroke-width="0.08">T2DM</text>
<text x="202.61" y="285.22" font-size="4.8" fill="#111" text-anchor="middle" stroke="#111" stroke-width="0.1">41%</text>
<text x="211.64" y="271.02" font-size="4.8" fill="#111" text-anchor="middle" stroke="#111" stroke-width="0.1">52%</text>
<text x="220.67" y="259.25" font-size="4.8" fill="#111" text-anchor="middle" stroke="#111" stroke-width="0.1">61%</text>
<text x="229.70" y="248.00" font-size="4.8" fill="#111" text-anchor="middle" stroke="#111" stroke-width="0.1">70%</text>
<text x="252.31" y="300.18" font-size="4.8" fill="#111" text-anchor="middle" stroke="#111" stroke-width="0.1">29%</text>
<text x="261.35" y="294.04" font-size="4.8" fill="#111" text-anchor="middle" stroke="#111" stroke-width="0.1">34%</text>
<text x="270.38" y="288.29" font-size="4.8" fill="#111" text-anchor="middle" stroke="#111" stroke-width="0.1">38%</text>
<text x="279.41" y="274.09" font-size="4.8" fill="#111" text-anchor="middle" stroke="#111" stroke-width="0.1">49%</text>
<text x="301.91" y="337.02" font-size="4.8" fill="#111" text-anchor="middle" stroke="#111" stroke-width="0.1">0%</text>
<text x="310.94" y="336.63" font-size="4.8" fill="#111" text-anchor="middle" stroke="#111" stroke-width="0.1">1%</text>
<text x="319.97" y="336.38" font-size="4.8" fill="#111" text-anchor="middle" stroke="#111" stroke-width="0.1">1%</text>
<text x="329.00" y="336.38" font-size="4.8" fill="#111" text-anchor="middle" stroke="#111" stroke-width="0.1">1%</text>
<text x="197.60" y="221.90" font-size="10.2" fill="#000" textLength="67.50" lengthAdjust="spacingAndGlyphs" stroke="#000" stroke-width="0.12">Males 12-&lt;16y</text>
<text x="211.90" y="240.55" font-size="8.2" fill="#000" textLength="28.40" lengthAdjust="spacingAndGlyphs" stroke="#000" stroke-width="0.12">p=0.002</text>
<line x1="217.80" y1="241.70" x2="232.60" y2="241.70" stroke="#2a2a2a" stroke-width="0.8"/>
<text x="259.60" y="266.05" font-size="8.2" fill="#000" textLength="28.50" lengthAdjust="spacingAndGlyphs" stroke="#000" stroke-width="0.12">p&lt;0.001</text>
<line x1="267.80" y1="267.20" x2="282.20" y2="267.20" stroke="#2a2a2a" stroke-width="0.8"/>
<text x="319.20" y="326.85" font-size="8.2" fill="#000" textLength="13.70" lengthAdjust="spacingAndGlyphs" stroke="#000" stroke-width="0.12">n.s.</text>
<line x1="317.70" y1="328.00" x2="333.80" y2="328.00" stroke="#2a2a2a" stroke-width="0.8"/>
<rect x="373.20" y="290.47" width="8.50" height="52.43" fill="#92d050"/>
<rect x="381.70" y="272.00" width="8.50" height="70.90" fill="#ffff00"/>
<rect x="390.20" y="261.07" width="8.50" height="81.83" fill="#ff0000"/>
<rect x="398.70" y="250.40" width="8.50" height="92.50" fill="#00b0f0"/>
<rect x="420.30" y="306.21" width="8.50" height="36.69" fill="#92d050"/>
<rect x="428.80" y="303.22" width="8.50" height="39.68" fill="#ffff00"/>
<rect x="437.30" y="305.04" width="8.50" height="37.86" fill="#ff0000"/>
<rect x="445.80" y="302.57" width="8.50" height="40.33" fill="#00b0f0"/>
<rect x="467.30" y="341.99" width="8.50" height="0.91" fill="#92d050"/>
<rect x="475.80" y="341.99" width="8.50" height="0.91" fill="#ffff00"/>
<rect x="484.30" y="341.47" width="8.50" height="1.43" fill="#ff0000"/>
<rect x="492.80" y="341.86" width="8.50" height="1.04" fill="#00b0f0"/>
<line x1="366.60" y1="212.80" x2="366.60" y2="342.90" stroke="#909090" stroke-width="0.8"/>
<line x1="366.60" y1="342.90" x2="508.00" y2="342.90" stroke="#909090" stroke-width="0.8"/>
<line x1="364.50" y1="342.90" x2="366.60" y2="342.90" stroke="#909090" stroke-width="0.6"/>
<text x="353.14" y="345.00" font-size="6.0" fill="#222" textLength="7.66" lengthAdjust="spacingAndGlyphs" stroke="#222" stroke-width="0.08">0%</text>
<line x1="364.50" y1="329.89" x2="366.60" y2="329.89" stroke="#909090" stroke-width="0.6"/>
<text x="350.19" y="332.00" font-size="6.0" fill="#222" textLength="10.61" lengthAdjust="spacingAndGlyphs" stroke="#222" stroke-width="0.08">10%</text>
<line x1="364.50" y1="316.88" x2="366.60" y2="316.88" stroke="#909090" stroke-width="0.6"/>
<text x="350.19" y="319.00" font-size="6.0" fill="#222" textLength="10.61" lengthAdjust="spacingAndGlyphs" stroke="#222" stroke-width="0.08">20%</text>
<line x1="364.50" y1="303.87" x2="366.60" y2="303.87" stroke="#909090" stroke-width="0.6"/>
<text x="350.19" y="306.00" font-size="6.0" fill="#222" textLength="10.61" lengthAdjust="spacingAndGlyphs" stroke="#222" stroke-width="0.08">30%</text>
<line x1="364.50" y1="290.86" x2="366.60" y2="290.86" stroke="#909090" stroke-width="0.6"/>
<text x="350.19" y="293.00" font-size="6.0" fill="#222" textLength="10.61" lengthAdjust="spacingAndGlyphs" stroke="#222" stroke-width="0.08">40%</text>
<line x1="364.50" y1="277.85" x2="366.60" y2="277.85" stroke="#909090" stroke-width="0.6"/>
<text x="350.19" y="280.00" font-size="6.0" fill="#222" textLength="10.61" lengthAdjust="spacingAndGlyphs" stroke="#222" stroke-width="0.08">50%</text>
<line x1="364.50" y1="264.84" x2="366.60" y2="264.84" stroke="#909090" stroke-width="0.6"/>
<text x="350.19" y="267.00" font-size="6.0" fill="#222" textLength="10.61" lengthAdjust="spacingAndGlyphs" stroke="#222" stroke-width="0.08">60%</text>
<line x1="364.50" y1="251.83" x2="366.60" y2="251.83" stroke="#909090" stroke-width="0.6"/>
<text x="350.19" y="254.00" font-size="6.0" fill="#222" textLength="10.61" lengthAdjust="spacingAndGlyphs" stroke="#222" stroke-width="0.08">70%</text>
<line x1="364.50" y1="238.82" x2="366.60" y2="238.82" stroke="#909090" stroke-width="0.6"/>
<text x="350.19" y="241.00" font-size="6.0" fill="#222" textLength="10.61" lengthAdjust="spacingAndGlyphs" stroke="#222" stroke-width="0.08">80%</text>
<line x1="364.50" y1="225.81" x2="366.60" y2="225.81" stroke="#909090" stroke-width="0.6"/>
<text x="350.19" y="228.00" font-size="6.0" fill="#222" textLength="10.61" lengthAdjust="spacingAndGlyphs" stroke="#222" stroke-width="0.08">90%</text>
<line x1="364.50" y1="212.80" x2="366.60" y2="212.80" stroke="#909090" stroke-width="0.6"/>
<text x="347.25" y="215.00" font-size="6.0" fill="#222" textLength="13.55" lengthAdjust="spacingAndGlyphs" stroke="#222" stroke-width="0.08">100%</text>
<line x1="366.60" y1="342.90" x2="366.60" y2="344.90" stroke="#909090" stroke-width="0.6"/>
<line x1="413.73" y1="342.90" x2="413.73" y2="344.90" stroke="#909090" stroke-width="0.6"/>
<line x1="460.87" y1="342.90" x2="460.87" y2="344.90" stroke="#909090" stroke-width="0.6"/>
<line x1="508.00" y1="342.90" x2="508.00" y2="344.90" stroke="#909090" stroke-width="0.6"/>
<text x="373.30" y="353.20" font-size="6.2" fill="#111" textLength="33.80" lengthAdjust="spacingAndGlyphs" stroke="#111" stroke-width="0.08">hypertension</text>
<text x="421.10" y="353.20" font-size="6.2" fill="#111" textLength="32.40" lengthAdjust="spacingAndGlyphs" stroke="#111" stroke-width="0.08">dyslipidemia</text>
<text x="476.10" y="353.20" font-size="6.2" fill="#111" textLength="16.40" lengthAdjust="spacingAndGlyphs" stroke="#111" stroke-width="0.08">T2DM</text>
<text x="377.45" y="286.57" font-size="4.8" fill="#111" text-anchor="middle" stroke="#111" stroke-width="0.1">40%</text>
<text x="385.95" y="268.10" font-size="4.8" fill="#111" text-anchor="middle" stroke="#111" stroke-width="0.1">55%</text>
<text x="394.45" y="257.17" font-size="4.8" fill="#111" text-anchor="middle" stroke="#111" stroke-width="0.1">63%</text>
<text x="402.95" y="246.50" font-size="4.8" fill="#111" text-anchor="middle" stroke="#111" stroke-width="0.1">71%</text>
<text x="424.55" y="302.31" font-size="4.8" fill="#111" text-anchor="middle" stroke="#111" stroke-width="0.1">28%</text>
<text x="433.05" y="299.32" font-size="4.8" fill="#111" text-anchor="middle" stroke="#111" stroke-width="0.1">31%</text>
<text x="441.55" y="301.14" font-size="4.8" fill="#111" text-anchor="middle" stroke="#111" stroke-width="0.1">29%</text>
<text x="450.05" y="298.67" font-size="4.8" fill="#111" text-anchor="middle" stroke="#111" stroke-width="0.1">31%</text>
<text x="471.55" y="338.09" font-size="4.8" fill="#111" text-anchor="middle" stroke="#111" stroke-width="0.1">1%</text>
<text x="480.05" y="338.09" font-size="4.8" fill="#111" text-anchor="middle" stroke="#111" stroke-width="0.1">1%</text>
<text x="488.55" y="337.57" font-size="4.8" fill="#111" text-anchor="middle" stroke="#111" stroke-width="0.1">1%</text>
<text x="497.05" y="337.96" font-size="4.8" fill="#111" text-anchor="middle" stroke="#111" stroke-width="0.1">1%</text>
<text x="369.70" y="221.60" font-size="10.2" fill="#000" textLength="78.50" lengthAdjust="spacingAndGlyphs" stroke="#000" stroke-width="0.12">Females 10-&lt;14y</text>
<text x="386.00" y="237.45" font-size="8.2" fill="#000" textLength="28.80" lengthAdjust="spacingAndGlyphs" stroke="#000" stroke-width="0.12">p=0.005</text>
<line x1="392.00" y1="238.60" x2="405.70" y2="238.60" stroke="#2a2a2a" stroke-width="0.8"/>
<text x="439.70" y="287.75" font-size="8.2" fill="#000" textLength="12.40" lengthAdjust="spacingAndGlyphs" stroke="#000" stroke-width="0.12">n.s.</text>
<line x1="437.50" y1="291.00" x2="453.30" y2="291.00" stroke="#2a2a2a" stroke-width="0.8"/>
<text x="487.00" y="327.15" font-size="8.2" fill="#000" textLength="12.70" lengthAdjust="spacingAndGlyphs" stroke="#000" stroke-width="0.12">n.s.</text>
<line x1="484.60" y1="330.40" x2="499.70" y2="330.40" stroke="#2a2a2a" stroke-width="0.8"/>
<rect x="545.00" y="289.17" width="8.50" height="53.73" fill="#92d050"/>
<rect x="553.50" y="274.08" width="8.50" height="68.82" fill="#ffff00"/>
<rect x="562.00" y="264.32" width="8.50" height="78.58" fill="#ff0000"/>
<rect x="570.50" y="250.66" width="8.50" height="92.24" fill="#00b0f0"/>
<rect x="591.80" y="305.30" width="8.50" height="37.60" fill="#92d050"/>
<rect x="600.30" y="298.67" width="8.50" height="44.23" fill="#ffff00"/>
<rect x="608.80" y="294.37" width="8.50" height="48.53" fill="#ff0000"/>
<rect x="617.30" y="280.97" width="8.50" height="61.93" fill="#00b0f0"/>
<rect x="638.40" y="342.51" width="8.50" height="0.39" fill="#92d050"/>
<rect x="646.90" y="341.86" width="8.50" height="1.04" fill="#ffff00"/>
<rect x="655.40" y="341.86" width="8.50" height="1.04" fill="#ff0000"/>
<rect x="663.90" y="341.86" width="8.50" height="1.04" fill="#00b0f0"/>
<line x1="538.40" y1="212.80" x2="538.40" y2="342.90" stroke="#909090" stroke-width="0.8"/>
<line x1="538.40" y1="342.90" x2="678.80" y2="342.90" stroke="#909090" stroke-width="0.8"/>
<line x1="536.30" y1="342.90" x2="538.40" y2="342.90" stroke="#909090" stroke-width="0.6"/>
<text x="524.94" y="345.00" font-size="6.0" fill="#222" textLength="7.66" lengthAdjust="spacingAndGlyphs" stroke="#222" stroke-width="0.08">0%</text>
<line x1="536.30" y1="329.89" x2="538.40" y2="329.89" stroke="#909090" stroke-width="0.6"/>
<text x="521.99" y="332.00" font-size="6.0" fill="#222" textLength="10.61" lengthAdjust="spacingAndGlyphs" stroke="#222" stroke-width="0.08">10%</text>
<line x1="536.30" y1="316.88" x2="538.40" y2="316.88" stroke="#909090" stroke-width="0.6"/>
<text x="521.99" y="319.00" font-size="6.0" fill="#222" textLength="10.61" lengthAdjust="spacingAndGlyphs" stroke="#222" stroke-width="0.08">20%</text>
<line x1="536.30" y1="303.87" x2="538.40" y2="303.87" stroke="#909090" stroke-width="0.6"/>
<text x="521.99" y="306.00" font-size="6.0" fill="#222" textLength="10.61" lengthAdjust="spacingAndGlyphs" stroke="#222" stroke-width="0.08">30%</text>
<line x1="536.30" y1="290.86" x2="538.40" y2="290.86" stroke="#909090" stroke-width="0.6"/>
<text x="521.99" y="293.00" font-size="6.0" fill="#222" textLength="10.61" lengthAdjust="spacingAndGlyphs" stroke="#222" stroke-width="0.08">40%</text>
<line x1="536.30" y1="277.85" x2="538.40" y2="277.85" stroke="#909090" stroke-width="0.6"/>
<text x="521.99" y="280.00" font-size="6.0" fill="#222" textLength="10.61" lengthAdjust="spacingAndGlyphs" stroke="#222" stroke-width="0.08">50%</text>
<line x1="536.30" y1="264.84" x2="538.40" y2="264.84" stroke="#909090" stroke-width="0.6"/>
<text x="521.99" y="267.00" font-size="6.0" fill="#222" textLength="10.61" lengthAdjust="spacingAndGlyphs" stroke="#222" stroke-width="0.08">60%</text>
<line x1="536.30" y1="251.83" x2="538.40" y2="251.83" stroke="#909090" stroke-width="0.6"/>
<text x="521.99" y="254.00" font-size="6.0" fill="#222" textLength="10.61" lengthAdjust="spacingAndGlyphs" stroke="#222" stroke-width="0.08">70%</text>
<line x1="536.30" y1="238.82" x2="538.40" y2="238.82" stroke="#909090" stroke-width="0.6"/>
<text x="521.99" y="241.00" font-size="6.0" fill="#222" textLength="10.61" lengthAdjust="spacingAndGlyphs" stroke="#222" stroke-width="0.08">80%</text>
<line x1="536.30" y1="225.81" x2="538.40" y2="225.81" stroke="#909090" stroke-width="0.6"/>
<text x="521.99" y="228.00" font-size="6.0" fill="#222" textLength="10.61" lengthAdjust="spacingAndGlyphs" stroke="#222" stroke-width="0.08">90%</text>
<line x1="536.30" y1="212.80" x2="538.40" y2="212.80" stroke="#909090" stroke-width="0.6"/>
<text x="519.05" y="215.00" font-size="6.0" fill="#222" textLength="13.55" lengthAdjust="spacingAndGlyphs" stroke="#222" stroke-width="0.08">100%</text>
<line x1="538.40" y1="342.90" x2="538.40" y2="344.90" stroke="#909090" stroke-width="0.6"/>
<line x1="585.20" y1="342.90" x2="585.20" y2="344.90" stroke="#909090" stroke-width="0.6"/>
<line x1="632.00" y1="342.90" x2="632.00" y2="344.90" stroke="#909090" stroke-width="0.6"/>
<line x1="678.80" y1="342.90" x2="678.80" y2="344.90" stroke="#909090" stroke-width="0.6"/>
<text x="545.10" y="353.20" font-size="6.2" fill="#111" textLength="33.80" lengthAdjust="spacingAndGlyphs" stroke="#111" stroke-width="0.08">hypertension</text>
<text x="592.60" y="353.20" font-size="6.2" fill="#111" textLength="32.40" lengthAdjust="spacingAndGlyphs" stroke="#111" stroke-width="0.08">dyslipidemia</text>
<text x="647.20" y="353.20" font-size="6.2" fill="#111" textLength="16.40" lengthAdjust="spacingAndGlyphs" stroke="#111" stroke-width="0.08">T2DM</text>
<text x="549.25" y="285.27" font-size="4.8" fill="#111" text-anchor="middle" stroke="#111" stroke-width="0.1">41%</text>
<text x="557.75" y="270.18" font-size="4.8" fill="#111" text-anchor="middle" stroke="#111" stroke-width="0.1">53%</text>
<text x="566.25" y="260.42" font-size="4.8" fill="#111" text-anchor="middle" stroke="#111" stroke-width="0.1">61%</text>
<text x="574.75" y="246.76" font-size="4.8" fill="#111" text-anchor="middle" stroke="#111" stroke-width="0.1">71%</text>
<text x="596.05" y="301.40" font-size="4.8" fill="#111" text-anchor="middle" stroke="#111" stroke-width="0.1">29%</text>
<text x="604.55" y="294.77" font-size="4.8" fill="#111" text-anchor="middle" stroke="#111" stroke-width="0.1">34%</text>
<text x="613.05" y="290.47" font-size="4.8" fill="#111" text-anchor="middle" stroke="#111" stroke-width="0.1">38%</text>
<text x="621.55" y="277.07" font-size="4.8" fill="#111" text-anchor="middle" stroke="#111" stroke-width="0.1">48%</text>
<text x="642.65" y="338.61" font-size="4.8" fill="#111" text-anchor="middle" stroke="#111" stroke-width="0.1">0%</text>
<text x="651.15" y="337.96" font-size="4.8" fill="#111" text-anchor="middle" stroke="#111" stroke-width="0.1">1%</text>
<text x="659.65" y="337.96" font-size="4.8" fill="#111" text-anchor="middle" stroke="#111" stroke-width="0.1">1%</text>
<text x="668.15" y="337.96" font-size="4.8" fill="#111" text-anchor="middle" stroke="#111" stroke-width="0.1">1%</text>
<text x="541.20" y="222.00" font-size="10.2" fill="#000" textLength="68.30" lengthAdjust="spacingAndGlyphs" stroke="#000" stroke-width="0.12">Males 12-&lt;16y</text>
<text x="555.50" y="240.85" font-size="8.2" fill="#000" textLength="29.10" lengthAdjust="spacingAndGlyphs" stroke="#000" stroke-width="0.12">p&lt;0.001</text>
<line x1="563.00" y1="242.00" x2="575.80" y2="242.00" stroke="#2a2a2a" stroke-width="0.8"/>
<text x="603.40" y="266.15" font-size="8.2" fill="#000" textLength="28.80" lengthAdjust="spacingAndGlyphs" stroke="#000" stroke-width="0.12">p&lt;0.001</text>
<line x1="612.20" y1="267.30" x2="626.70" y2="267.30" stroke="#2a2a2a" stroke-width="0.8"/>
<text x="656.20" y="326.75" font-size="8.2" fill="#000" textLength="13.00" lengthAdjust="spacingAndGlyphs" stroke="#000" stroke-width="0.12">n.s.</text>
<line x1="654.00" y1="327.90" x2="670.10" y2="327.90" stroke="#2a2a2a" stroke-width="0.8"/>
<rect x="29.60" y="447.96" width="8.50" height="48.34" fill="#92d050"/>
<rect x="38.10" y="436.88" width="8.50" height="59.42" fill="#ffff00"/>
<rect x="46.60" y="425.68" width="8.50" height="70.62" fill="#ff0000"/>
<rect x="55.10" y="412.26" width="8.50" height="84.04" fill="#00b0f0"/>
<rect x="76.00" y="463.73" width="8.50" height="32.58" fill="#92d050"/>
<rect x="84.50" y="456.69" width="8.50" height="39.61" fill="#ffff00"/>
<rect x="93.00" y="452.13" width="8.50" height="44.17" fill="#ff0000"/>
<rect x="101.50" y="445.48" width="8.50" height="50.82" fill="#00b0f0"/>
<rect x="123.00" y="494.61" width="8.50" height="1.69" fill="#92d050"/>
<rect x="131.50" y="495.00" width="8.50" height="1.30" fill="#ffff00"/>
<rect x="140.00" y="494.87" width="8.50" height="1.43" fill="#ff0000"/>
<rect x="148.50" y="493.17" width="8.50" height="3.13" fill="#00b0f0"/>
<line x1="23.00" y1="366.00" x2="23.00" y2="496.30" stroke="#909090" stroke-width="0.8"/>
<line x1="23.00" y1="496.30" x2="163.60" y2="496.30" stroke="#909090" stroke-width="0.8"/>
<line x1="20.90" y1="496.30" x2="23.00" y2="496.30" stroke="#909090" stroke-width="0.6"/>
<text x="9.54" y="499.00" font-size="6.0" fill="#222" textLength="7.66" lengthAdjust="spacingAndGlyphs" stroke="#222" stroke-width="0.08">0%</text>
<line x1="20.90" y1="483.27" x2="23.00" y2="483.27" stroke="#909090" stroke-width="0.6"/>
<text x="6.59" y="486.00" font-size="6.0" fill="#222" textLength="10.61" lengthAdjust="spacingAndGlyphs" stroke="#222" stroke-width="0.08">10%</text>
<line x1="20.90" y1="470.24" x2="23.00" y2="470.24" stroke="#909090" stroke-width="0.6"/>
<text x="6.59" y="473.00" font-size="6.0" fill="#222" textLength="10.61" lengthAdjust="spacingAndGlyphs" stroke="#222" stroke-width="0.08">20%</text>
<line x1="20.90" y1="457.21" x2="23.00" y2="457.21" stroke="#909090" stroke-width="0.6"/>
<text x="6.59" y="460.00" font-size="6.0" fill="#222" textLength="10.61" lengthAdjust="spacingAndGlyphs" stroke="#222" stroke-width="0.08">30%</text>
<line x1="20.90" y1="444.18" x2="23.00" y2="444.18" stroke="#909090" stroke-width="0.6"/>
<text x="6.59" y="446.00" font-size="6.0" fill="#222" textLength="10.61" lengthAdjust="spacingAndGlyphs" stroke="#222" stroke-width="0.08">40%</text>
<line x1="20.90" y1="431.15" x2="23.00" y2="431.15" stroke="#909090" stroke-width="0.6"/>
<text x="6.59" y="433.00" font-size="6.0" fill="#222" textLength="10.61" lengthAdjust="spacingAndGlyphs" stroke="#222" stroke-width="0.08">50%</text>
<line x1="20.90" y1="418.12" x2="23.00" y2="418.12" stroke="#909090" stroke-width="0.6"/>
<text x="6.59" y="420.00" font-size="6.0" fill="#222" textLength="10.61" lengthAdjust="spacingAndGlyphs" stroke="#222" stroke-width="0.08">60%</text>
<line x1="20.90" y1="405.09" x2="23.00" y2="405.09" stroke="#909090" stroke-width="0.6"/>
<text x="6.59" y="407.00" font-size="6.0" fill="#222" textLength="10.61" lengthAdjust="spacingAndGlyphs" stroke="#222" stroke-width="0.08">70%</text>
<line x1="20.90" y1="392.06" x2="23.00" y2="392.06" stroke="#909090" stroke-width="0.6"/>
<text x="6.59" y="394.00" font-size="6.0" fill="#222" textLength="10.61" lengthAdjust="spacingAndGlyphs" stroke="#222" stroke-width="0.08">80%</text>
<line x1="20.90" y1="379.03" x2="23.00" y2="379.03" stroke="#909090" stroke-width="0.6"/>
<text x="6.59" y="381.00" font-size="6.0" fill="#222" textLength="10.61" lengthAdjust="spacingAndGlyphs" stroke="#222" stroke-width="0.08">90%</text>
<line x1="20.90" y1="366.00" x2="23.00" y2="366.00" stroke="#909090" stroke-width="0.6"/>
<text x="3.65" y="368.00" font-size="6.0" fill="#222" textLength="13.55" lengthAdjust="spacingAndGlyphs" stroke="#222" stroke-width="0.08">100%</text>
<line x1="23.00" y1="496.30" x2="23.00" y2="498.30" stroke="#909090" stroke-width="0.6"/>
<line x1="69.87" y1="496.30" x2="69.87" y2="498.30" stroke="#909090" stroke-width="0.6"/>
<line x1="116.73" y1="496.30" x2="116.73" y2="498.30" stroke="#909090" stroke-width="0.6"/>
<line x1="163.60" y1="496.30" x2="163.60" y2="498.30" stroke="#909090" stroke-width="0.6"/>
<text x="29.70" y="506.60" font-size="6.2" fill="#111" textLength="33.80" lengthAdjust="spacingAndGlyphs" stroke="#111" stroke-width="0.08">hypertension</text>
<text x="76.80" y="506.60" font-size="6.2" fill="#111" textLength="32.40" lengthAdjust="spacingAndGlyphs" stroke="#111" stroke-width="0.08">dyslipidemia</text>
<text x="131.80" y="506.60" font-size="6.2" fill="#111" textLength="16.40" lengthAdjust="spacingAndGlyphs" stroke="#111" stroke-width="0.08">T2DM</text>
<text x="33.85" y="444.06" font-size="4.8" fill="#111" text-anchor="middle" stroke="#111" stroke-width="0.1">37%</text>
<text x="42.35" y="432.98" font-size="4.8" fill="#111" text-anchor="middle" stroke="#111" stroke-width="0.1">46%</text>
<text x="50.85" y="421.78" font-size="4.8" fill="#111" text-anchor="middle" stroke="#111" stroke-width="0.1">54%</text>
<text x="59.35" y="408.36" font-size="4.8" fill="#111" text-anchor="middle" stroke="#111" stroke-width="0.1">64%</text>
<text x="80.25" y="459.83" font-size="4.8" fill="#111" text-anchor="middle" stroke="#111" stroke-width="0.1">25%</text>
<text x="97.25" y="448.23" font-size="4.8" fill="#111" text-anchor="middle" stroke="#111" stroke-width="0.1">34%</text>
<text x="105.75" y="441.58" font-size="4.8" fill="#111" text-anchor="middle" stroke="#111" stroke-width="0.1">39%</text>
<text x="127.25" y="490.71" font-size="4.8" fill="#111" text-anchor="middle" stroke="#111" stroke-width="0.1">1%</text>
<text x="144.25" y="490.97" font-size="4.8" fill="#111" text-anchor="middle" stroke="#111" stroke-width="0.1">1%</text>
<text x="152.75" y="489.27" font-size="4.8" fill="#111" text-anchor="middle" stroke="#111" stroke-width="0.1">2%</text>
<text x="27.30" y="373.90" font-size="10.2" fill="#000" textLength="63.10" lengthAdjust="spacingAndGlyphs" stroke="#000" stroke-width="0.12">Females &gt;14y</text>
<line x1="67.68" y1="375.70" x2="73.74" y2="375.70" stroke="#222" stroke-width="0.7"/>
<text x="41.60" y="399.25" font-size="8.2" fill="#000" textLength="29.70" lengthAdjust="spacingAndGlyphs" stroke="#000" stroke-width="0.12">p&lt;0.001</text>
<line x1="48.50" y1="400.40" x2="62.80" y2="400.40" stroke="#2a2a2a" stroke-width="0.8"/>
<text x="88.60" y="431.75" font-size="8.2" fill="#000" textLength="29.10" lengthAdjust="spacingAndGlyphs" stroke="#000" stroke-width="0.12">p=0.003</text>
<line x1="95.50" y1="432.90" x2="109.80" y2="432.90" stroke="#2a2a2a" stroke-width="0.8"/>
<text x="136.80" y="481.55" font-size="8.2" fill="#000" textLength="28.90" lengthAdjust="spacingAndGlyphs" stroke="#000" stroke-width="0.12">p=0.006</text>
<line x1="144.90" y1="482.70" x2="156.20" y2="482.70" stroke="#2a2a2a" stroke-width="0.8"/>
<rect x="201.20" y="461.77" width="8.50" height="34.53" fill="#92d050"/>
<rect x="209.70" y="447.44" width="8.50" height="48.86" fill="#ffff00"/>
<rect x="218.20" y="438.97" width="8.50" height="57.33" fill="#ff0000"/>
<rect x="226.70" y="421.64" width="8.50" height="74.66" fill="#00b0f0"/>
<rect x="247.80" y="450.04" width="8.50" height="46.26" fill="#92d050"/>
<rect x="256.30" y="442.88" width="8.50" height="53.42" fill="#ffff00"/>
<rect x="264.80" y="430.37" width="8.50" height="65.93" fill="#ff0000"/>
<rect x="273.30" y="417.08" width="8.50" height="79.22" fill="#00b0f0"/>
<rect x="294.60" y="495.00" width="8.50" height="1.30" fill="#92d050"/>
<rect x="303.10" y="493.69" width="8.50" height="2.61" fill="#ffff00"/>
<rect x="311.60" y="494.35" width="8.50" height="1.95" fill="#ff0000"/>
<rect x="320.10" y="492.39" width="8.50" height="3.91" fill="#00b0f0"/>
<line x1="194.50" y1="366.00" x2="194.50" y2="496.30" stroke="#909090" stroke-width="0.8"/>
<line x1="194.50" y1="496.30" x2="335.30" y2="496.30" stroke="#909090" stroke-width="0.8"/>
<line x1="192.40" y1="496.30" x2="194.50" y2="496.30" stroke="#909090" stroke-width="0.6"/>
<text x="181.04" y="499.00" font-size="6.0" fill="#222" textLength="7.66" lengthAdjust="spacingAndGlyphs" stroke="#222" stroke-width="0.08">0%</text>
<line x1="192.40" y1="483.27" x2="194.50" y2="483.27" stroke="#909090" stroke-width="0.6"/>
<text x="178.09" y="486.00" font-size="6.0" fill="#222" textLength="10.61" lengthAdjust="spacingAndGlyphs" stroke="#222" stroke-width="0.08">10%</text>
<line x1="192.40" y1="470.24" x2="194.50" y2="470.24" stroke="#909090" stroke-width="0.6"/>
<text x="178.09" y="473.00" font-size="6.0" fill="#222" textLength="10.61" lengthAdjust="spacingAndGlyphs" stroke="#222" stroke-width="0.08">20%</text>
<line x1="192.40" y1="457.21" x2="194.50" y2="457.21" stroke="#909090" stroke-width="0.6"/>
<text x="178.09" y="460.00" font-size="6.0" fill="#222" textLength="10.61" lengthAdjust="spacingAndGlyphs" stroke="#222" stroke-width="0.08">30%</text>
<line x1="192.40" y1="444.18" x2="194.50" y2="444.18" stroke="#909090" stroke-width="0.6"/>
<text x="178.09" y="446.00" font-size="6.0" fill="#222" textLength="10.61" lengthAdjust="spacingAndGlyphs" stroke="#222" stroke-width="0.08">40%</text>
<line x1="192.40" y1="431.15" x2="194.50" y2="431.15" stroke="#909090" stroke-width="0.6"/>
<text x="178.09" y="433.00" font-size="6.0" fill="#222" textLength="10.61" lengthAdjust="spacingAndGlyphs" stroke="#222" stroke-width="0.08">50%</text>
<line x1="192.40" y1="418.12" x2="194.50" y2="418.12" stroke="#909090" stroke-width="0.6"/>
<text x="178.09" y="420.00" font-size="6.0" fill="#222" textLength="10.61" lengthAdjust="spacingAndGlyphs" stroke="#222" stroke-width="0.08">60%</text>
<line x1="192.40" y1="405.09" x2="194.50" y2="405.09" stroke="#909090" stroke-width="0.6"/>
<text x="178.09" y="407.00" font-size="6.0" fill="#222" textLength="10.61" lengthAdjust="spacingAndGlyphs" stroke="#222" stroke-width="0.08">70%</text>
<line x1="192.40" y1="392.06" x2="194.50" y2="392.06" stroke="#909090" stroke-width="0.6"/>
<text x="178.09" y="394.00" font-size="6.0" fill="#222" textLength="10.61" lengthAdjust="spacingAndGlyphs" stroke="#222" stroke-width="0.08">80%</text>
<line x1="192.40" y1="379.03" x2="194.50" y2="379.03" stroke="#909090" stroke-width="0.6"/>
<text x="178.09" y="381.00" font-size="6.0" fill="#222" textLength="10.61" lengthAdjust="spacingAndGlyphs" stroke="#222" stroke-width="0.08">90%</text>
<line x1="192.40" y1="366.00" x2="194.50" y2="366.00" stroke="#909090" stroke-width="0.6"/>
<text x="175.15" y="368.00" font-size="6.0" fill="#222" textLength="13.55" lengthAdjust="spacingAndGlyphs" stroke="#222" stroke-width="0.08">100%</text>
<line x1="194.50" y1="496.30" x2="194.50" y2="498.30" stroke="#909090" stroke-width="0.6"/>
<line x1="241.43" y1="496.30" x2="241.43" y2="498.30" stroke="#909090" stroke-width="0.6"/>
<line x1="288.37" y1="496.30" x2="288.37" y2="498.30" stroke="#909090" stroke-width="0.6"/>
<line x1="335.30" y1="496.30" x2="335.30" y2="498.30" stroke="#909090" stroke-width="0.6"/>
<text x="201.30" y="506.60" font-size="6.2" fill="#111" textLength="33.80" lengthAdjust="spacingAndGlyphs" stroke="#111" stroke-width="0.08">hypertension</text>
<text x="248.60" y="506.60" font-size="6.2" fill="#111" textLength="32.40" lengthAdjust="spacingAndGlyphs" stroke="#111" stroke-width="0.08">dyslipidemia</text>
<text x="303.40" y="506.60" font-size="6.2" fill="#111" textLength="16.40" lengthAdjust="spacingAndGlyphs" stroke="#111" stroke-width="0.08">T2DM</text>
<text x="205.45" y="457.87" font-size="4.8" fill="#111" text-anchor="middle" stroke="#111" stroke-width="0.1">27%</text>
<text x="213.95" y="443.54" font-size="4.8" fill="#111" text-anchor="middle" stroke="#111" stroke-width="0.1">37%</text>
<text x="222.45" y="435.07" font-size="4.8" fill="#111" text-anchor="middle" stroke="#111" stroke-width="0.1">44%</text>
<text x="230.95" y="417.74" font-size="4.8" fill="#111" text-anchor="middle" stroke="#111" stroke-width="0.1">57%</text>
<text x="252.05" y="446.14" font-size="4.8" fill="#111" text-anchor="middle" stroke="#111" stroke-width="0.1">35%</text>
<text x="260.55" y="438.98" font-size="4.8" fill="#111" text-anchor="middle" stroke="#111" stroke-width="0.1">41%</text>
<text x="269.05" y="426.47" font-size="4.8" fill="#111" text-anchor="middle" stroke="#111" stroke-width="0.1">50%</text>
<text x="277.55" y="413.18" font-size="4.8" fill="#111" text-anchor="middle" stroke="#111" stroke-width="0.1">61%</text>
<text x="298.85" y="491.10" font-size="4.8" fill="#111" text-anchor="middle" stroke="#111" stroke-width="0.1">1%</text>
<text x="307.35" y="489.79" font-size="4.8" fill="#111" text-anchor="middle" stroke="#111" stroke-width="0.1">2%</text>
<text x="315.85" y="490.45" font-size="4.8" fill="#111" text-anchor="middle" stroke="#111" stroke-width="0.1">1%</text>
<text x="324.35" y="488.49" font-size="4.8" fill="#111" text-anchor="middle" stroke="#111" stroke-width="0.1">3%</text>
<text x="201.10" y="380.20" font-size="10.2" fill="#000" textLength="52.60" lengthAdjust="spacingAndGlyphs" stroke="#000" stroke-width="0.12">Males &gt;16y</text>
<line x1="231.40" y1="382.00" x2="237.13" y2="382.00" stroke="#222" stroke-width="0.7"/>
<text x="215.70" y="406.35" font-size="8.2" fill="#000" textLength="28.50" lengthAdjust="spacingAndGlyphs" stroke="#000" stroke-width="0.12">p&lt;0.001</text>
<line x1="221.60" y1="407.50" x2="235.40" y2="407.50" stroke="#2a2a2a" stroke-width="0.8"/>
<text x="256.20" y="402.85" font-size="8.2" fill="#000" textLength="28.00" lengthAdjust="spacingAndGlyphs" stroke="#000" stroke-width="0.12">p&lt;0.001</text>
<line x1="264.90" y1="404.00" x2="278.70" y2="404.00" stroke="#2a2a2a" stroke-width="0.8"/>
<text x="312.60" y="478.45" font-size="8.2" fill="#000" textLength="12.70" lengthAdjust="spacingAndGlyphs" stroke="#000" stroke-width="0.12">n.s.</text>
<line x1="311.00" y1="479.60" x2="326.20" y2="479.60" stroke="#2a2a2a" stroke-width="0.8"/>
<rect x="373.20" y="446.13" width="8.50" height="50.17" fill="#92d050"/>
<rect x="381.70" y="431.15" width="8.50" height="65.15" fill="#ffff00"/>
<rect x="390.20" y="423.33" width="8.50" height="72.97" fill="#ff0000"/>
<rect x="398.70" y="407.04" width="8.50" height="89.26" fill="#00b0f0"/>
<rect x="420.20" y="461.77" width="8.50" height="34.53" fill="#92d050"/>
<rect x="428.70" y="453.95" width="8.50" height="42.35" fill="#ffff00"/>
<rect x="437.20" y="450.04" width="8.50" height="46.26" fill="#ff0000"/>
<rect x="445.70" y="444.18" width="8.50" height="52.12" fill="#00b0f0"/>
<rect x="467.00" y="494.87" width="8.50" height="1.43" fill="#92d050"/>
<rect x="475.50" y="495.00" width="8.50" height="1.30" fill="#ffff00"/>
<rect x="484.00" y="493.69" width="8.50" height="2.61" fill="#ff0000"/>
<rect x="492.50" y="492.39" width="8.50" height="3.91" fill="#00b0f0"/>
<line x1="366.60" y1="366.00" x2="366.60" y2="496.30" stroke="#909090" stroke-width="0.8"/>
<line x1="366.60" y1="496.30" x2="507.90" y2="496.30" stroke="#909090" stroke-width="0.8"/>
<line x1="364.50" y1="496.30" x2="366.60" y2="496.30" stroke="#909090" stroke-width="0.6"/>
<text x="353.14" y="499.00" font-size="6.0" fill="#222" textLength="7.66" lengthAdjust="spacingAndGlyphs" stroke="#222" stroke-width="0.08">0%</text>
<line x1="364.50" y1="483.27" x2="366.60" y2="483.27" stroke="#909090" stroke-width="0.6"/>
<text x="350.19" y="486.00" font-size="6.0" fill="#222" textLength="10.61" lengthAdjust="spacingAndGlyphs" stroke="#222" stroke-width="0.08">10%</text>
<line x1="364.50" y1="470.24" x2="366.60" y2="470.24" stroke="#909090" stroke-width="0.6"/>
<text x="350.19" y="473.00" font-size="6.0" fill="#222" textLength="10.61" lengthAdjust="spacingAndGlyphs" stroke="#222" stroke-width="0.08">20%</text>
<line x1="364.50" y1="457.21" x2="366.60" y2="457.21" stroke="#909090" stroke-width="0.6"/>
<text x="350.19" y="460.00" font-size="6.0" fill="#222" textLength="10.61" lengthAdjust="spacingAndGlyphs" stroke="#222" stroke-width="0.08">30%</text>
<line x1="364.50" y1="444.18" x2="366.60" y2="444.18" stroke="#909090" stroke-width="0.6"/>
<text x="350.19" y="446.00" font-size="6.0" fill="#222" textLength="10.61" lengthAdjust="spacingAndGlyphs" stroke="#222" stroke-width="0.08">40%</text>
<line x1="364.50" y1="431.15" x2="366.60" y2="431.15" stroke="#909090" stroke-width="0.6"/>
<text x="350.19" y="433.00" font-size="6.0" fill="#222" textLength="10.61" lengthAdjust="spacingAndGlyphs" stroke="#222" stroke-width="0.08">50%</text>
<line x1="364.50" y1="418.12" x2="366.60" y2="418.12" stroke="#909090" stroke-width="0.6"/>
<text x="350.19" y="420.00" font-size="6.0" fill="#222" textLength="10.61" lengthAdjust="spacingAndGlyphs" stroke="#222" stroke-width="0.08">60%</text>
<line x1="364.50" y1="405.09" x2="366.60" y2="405.09" stroke="#909090" stroke-width="0.6"/>
<text x="350.19" y="407.00" font-size="6.0" fill="#222" textLength="10.61" lengthAdjust="spacingAndGlyphs" stroke="#222" stroke-width="0.08">70%</text>
<line x1="364.50" y1="392.06" x2="366.60" y2="392.06" stroke="#909090" stroke-width="0.6"/>
<text x="350.19" y="394.00" font-size="6.0" fill="#222" textLength="10.61" lengthAdjust="spacingAndGlyphs" stroke="#222" stroke-width="0.08">80%</text>
<line x1="364.50" y1="379.03" x2="366.60" y2="379.03" stroke="#909090" stroke-width="0.6"/>
<text x="350.19" y="381.00" font-size="6.0" fill="#222" textLength="10.61" lengthAdjust="spacingAndGlyphs" stroke="#222" stroke-width="0.08">90%</text>
<line x1="364.50" y1="366.00" x2="366.60" y2="366.00" stroke="#909090" stroke-width="0.6"/>
<text x="347.25" y="368.00" font-size="6.0" fill="#222" textLength="13.55" lengthAdjust="spacingAndGlyphs" stroke="#222" stroke-width="0.08">100%</text>
<line x1="366.60" y1="496.30" x2="366.60" y2="498.30" stroke="#909090" stroke-width="0.6"/>
<line x1="413.70" y1="496.30" x2="413.70" y2="498.30" stroke="#909090" stroke-width="0.6"/>
<line x1="460.80" y1="496.30" x2="460.80" y2="498.30" stroke="#909090" stroke-width="0.6"/>
<line x1="507.90" y1="496.30" x2="507.90" y2="498.30" stroke="#909090" stroke-width="0.6"/>
<text x="373.30" y="506.60" font-size="6.2" fill="#111" textLength="33.80" lengthAdjust="spacingAndGlyphs" stroke="#111" stroke-width="0.08">hypertension</text>
<text x="421.00" y="506.60" font-size="6.2" fill="#111" textLength="32.40" lengthAdjust="spacingAndGlyphs" stroke="#111" stroke-width="0.08">dyslipidemia</text>
<text x="475.80" y="506.60" font-size="6.2" fill="#111" textLength="16.40" lengthAdjust="spacingAndGlyphs" stroke="#111" stroke-width="0.08">T2DM</text>
<text x="377.45" y="442.23" font-size="4.8" fill="#111" text-anchor="middle" stroke="#111" stroke-width="0.1">39%</text>
<text x="385.95" y="427.25" font-size="4.8" fill="#111" text-anchor="middle" stroke="#111" stroke-width="0.1">50%</text>
<text x="394.45" y="419.43" font-size="4.8" fill="#111" text-anchor="middle" stroke="#111" stroke-width="0.1">56%</text>
<text x="402.95" y="403.14" font-size="4.8" fill="#111" text-anchor="middle" stroke="#111" stroke-width="0.1">69%</text>
<text x="424.45" y="457.87" font-size="4.8" fill="#111" text-anchor="middle" stroke="#111" stroke-width="0.1">27%</text>
<text x="432.95" y="450.05" font-size="4.8" fill="#111" text-anchor="middle" stroke="#111" stroke-width="0.1">32%</text>
<text x="441.45" y="446.14" font-size="4.8" fill="#111" text-anchor="middle" stroke="#111" stroke-width="0.1">36%</text>
<text x="449.95" y="440.28" font-size="4.8" fill="#111" text-anchor="middle" stroke="#111" stroke-width="0.1">40%</text>
<text x="471.25" y="490.97" font-size="4.8" fill="#111" text-anchor="middle" stroke="#111" stroke-width="0.1">1%</text>
<text x="479.75" y="491.10" font-size="4.8" fill="#111" text-anchor="middle" stroke="#111" stroke-width="0.1">1%</text>
<text x="488.25" y="489.79" font-size="4.8" fill="#111" text-anchor="middle" stroke="#111" stroke-width="0.1">2%</text>
<text x="496.75" y="488.49" font-size="4.8" fill="#111" text-anchor="middle" stroke="#111" stroke-width="0.1">3%</text>
<text x="370.80" y="373.90" font-size="10.2" fill="#000" textLength="63.10" lengthAdjust="spacingAndGlyphs" stroke="#000" stroke-width="0.12">Females &gt;14y</text>
<line x1="411.18" y1="375.70" x2="417.24" y2="375.70" stroke="#222" stroke-width="0.7"/>
<text x="386.00" y="395.65" font-size="8.2" fill="#000" textLength="28.80" lengthAdjust="spacingAndGlyphs" stroke="#000" stroke-width="0.12">p&lt;0.001</text>
<line x1="392.00" y1="396.80" x2="406.30" y2="396.80" stroke="#2a2a2a" stroke-width="0.8"/>
<text x="439.70" y="431.15" font-size="8.2" fill="#000" textLength="11.50" lengthAdjust="spacingAndGlyphs" stroke="#000" stroke-width="0.12">n.s</text>
<line x1="438.50" y1="432.30" x2="452.70" y2="432.30" stroke="#2a2a2a" stroke-width="0.8"/>
<text x="487.00" y="481.15" font-size="8.2" fill="#000" textLength="12.70" lengthAdjust="spacingAndGlyphs" stroke="#000" stroke-width="0.12">n.s.</text>
<line x1="485.20" y1="482.30" x2="500.30" y2="482.30" stroke="#2a2a2a" stroke-width="0.8"/>
<rect x="545.00" y="457.86" width="8.55" height="38.44" fill="#00b050"/>
<rect x="553.55" y="444.18" width="8.55" height="52.12" fill="#ffff00"/>
<rect x="562.10" y="431.15" width="8.55" height="65.15" fill="#ff0000"/>
<rect x="570.65" y="421.38" width="8.55" height="74.92" fill="#00b0f0"/>
<rect x="591.20" y="448.74" width="8.55" height="47.56" fill="#00b050"/>
<rect x="599.75" y="436.36" width="8.55" height="59.94" fill="#ffff00"/>
<rect x="608.30" y="427.24" width="8.55" height="69.06" fill="#ff0000"/>
<rect x="616.85" y="416.82" width="8.55" height="79.48" fill="#00b0f0"/>
<rect x="638.10" y="494.08" width="8.55" height="2.22" fill="#00b050"/>
<rect x="646.65" y="493.30" width="8.55" height="3.00" fill="#ffff00"/>
<rect x="655.20" y="494.22" width="8.55" height="2.08" fill="#ff0000"/>
<rect x="663.75" y="492.39" width="8.55" height="3.91" fill="#00b0f0"/>
<line x1="538.30" y1="366.00" x2="538.30" y2="496.30" stroke="#909090" stroke-width="0.8"/>
<line x1="538.30" y1="496.30" x2="678.40" y2="496.30" stroke="#909090" stroke-width="0.8"/>
<line x1="536.20" y1="496.30" x2="538.30" y2="496.30" stroke="#909090" stroke-width="0.6"/>
<text x="524.84" y="499.00" font-size="6.0" fill="#222" textLength="7.66" lengthAdjust="spacingAndGlyphs" stroke="#222" stroke-width="0.08">0%</text>
<line x1="536.20" y1="483.27" x2="538.30" y2="483.27" stroke="#909090" stroke-width="0.6"/>
<text x="521.89" y="486.00" font-size="6.0" fill="#222" textLength="10.61" lengthAdjust="spacingAndGlyphs" stroke="#222" stroke-width="0.08">10%</text>
<line x1="536.20" y1="470.24" x2="538.30" y2="470.24" stroke="#909090" stroke-width="0.6"/>
<text x="521.89" y="473.00" font-size="6.0" fill="#222" textLength="10.61" lengthAdjust="spacingAndGlyphs" stroke="#222" stroke-width="0.08">20%</text>
<line x1="536.20" y1="457.21" x2="538.30" y2="457.21" stroke="#909090" stroke-width="0.6"/>
<text x="521.89" y="460.00" font-size="6.0" fill="#222" textLength="10.61" lengthAdjust="spacingAndGlyphs" stroke="#222" stroke-width="0.08">30%</text>
<line x1="536.20" y1="444.18" x2="538.30" y2="444.18" stroke="#909090" stroke-width="0.6"/>
<text x="521.89" y="446.00" font-size="6.0" fill="#222" textLength="10.61" lengthAdjust="spacingAndGlyphs" stroke="#222" stroke-width="0.08">40%</text>
<line x1="536.20" y1="431.15" x2="538.30" y2="431.15" stroke="#909090" stroke-width="0.6"/>
<text x="521.89" y="433.00" font-size="6.0" fill="#222" textLength="10.61" lengthAdjust="spacingAndGlyphs" stroke="#222" stroke-width="0.08">50%</text>
<line x1="536.20" y1="418.12" x2="538.30" y2="418.12" stroke="#909090" stroke-width="0.6"/>
<text x="521.89" y="420.00" font-size="6.0" fill="#222" textLength="10.61" lengthAdjust="spacingAndGlyphs" stroke="#222" stroke-width="0.08">60%</text>
<line x1="536.20" y1="405.09" x2="538.30" y2="405.09" stroke="#909090" stroke-width="0.6"/>
<text x="521.89" y="407.00" font-size="6.0" fill="#222" textLength="10.61" lengthAdjust="spacingAndGlyphs" stroke="#222" stroke-width="0.08">70%</text>
<line x1="536.20" y1="392.06" x2="538.30" y2="392.06" stroke="#909090" stroke-width="0.6"/>
<text x="521.89" y="394.00" font-size="6.0" fill="#222" textLength="10.61" lengthAdjust="spacingAndGlyphs" stroke="#222" stroke-width="0.08">80%</text>
<line x1="536.20" y1="379.03" x2="538.30" y2="379.03" stroke="#909090" stroke-width="0.6"/>
<text x="521.89" y="381.00" font-size="6.0" fill="#222" textLength="10.61" lengthAdjust="spacingAndGlyphs" stroke="#222" stroke-width="0.08">90%</text>
<line x1="536.20" y1="366.00" x2="538.30" y2="366.00" stroke="#909090" stroke-width="0.6"/>
<text x="518.95" y="368.00" font-size="6.0" fill="#222" textLength="13.55" lengthAdjust="spacingAndGlyphs" stroke="#222" stroke-width="0.08">100%</text>
<line x1="538.30" y1="496.30" x2="538.30" y2="498.30" stroke="#909090" stroke-width="0.6"/>
<line x1="585.00" y1="496.30" x2="585.00" y2="498.30" stroke="#909090" stroke-width="0.6"/>
<line x1="631.70" y1="496.30" x2="631.70" y2="498.30" stroke="#909090" stroke-width="0.6"/>
<line x1="678.40" y1="496.30" x2="678.40" y2="498.30" stroke="#909090" stroke-width="0.6"/>
<text x="545.20" y="506.60" font-size="6.2" fill="#111" textLength="33.80" lengthAdjust="spacingAndGlyphs" stroke="#111" stroke-width="0.08">hypertension</text>
<text x="592.10" y="506.60" font-size="6.2" fill="#111" textLength="32.40" lengthAdjust="spacingAndGlyphs" stroke="#111" stroke-width="0.08">dyslipidemia</text>
<text x="647.00" y="506.60" font-size="6.2" fill="#111" textLength="16.40" lengthAdjust="spacingAndGlyphs" stroke="#111" stroke-width="0.08">T2DM</text>
<text x="549.27" y="453.96" font-size="4.8" fill="#111" text-anchor="middle" stroke="#111" stroke-width="0.1">29%</text>
<text x="557.83" y="440.28" font-size="4.8" fill="#111" text-anchor="middle" stroke="#111" stroke-width="0.1">40%</text>
<text x="566.38" y="427.25" font-size="4.8" fill="#111" text-anchor="middle" stroke="#111" stroke-width="0.1">50%</text>
<text x="574.92" y="417.48" font-size="4.8" fill="#111" text-anchor="middle" stroke="#111" stroke-width="0.1">57%</text>
<text x="595.48" y="444.84" font-size="4.8" fill="#111" text-anchor="middle" stroke="#111" stroke-width="0.1">37%</text>
<text x="604.03" y="432.46" font-size="4.8" fill="#111" text-anchor="middle" stroke="#111" stroke-width="0.1">46%</text>
<text x="612.58" y="423.34" font-size="4.8" fill="#111" text-anchor="middle" stroke="#111" stroke-width="0.1">53%</text>
<text x="621.12" y="412.92" font-size="4.8" fill="#111" text-anchor="middle" stroke="#111" stroke-width="0.1">61%</text>
<text x="642.38" y="490.18" font-size="4.8" fill="#111" text-anchor="middle" stroke="#111" stroke-width="0.1">1%</text>
<text x="650.93" y="489.40" font-size="4.8" fill="#111" text-anchor="middle" stroke="#111" stroke-width="0.1">2%</text>
<text x="659.48" y="490.32" font-size="4.8" fill="#111" text-anchor="middle" stroke="#111" stroke-width="0.1">1%</text>
<text x="668.02" y="488.49" font-size="4.8" fill="#111" text-anchor="middle" stroke="#111" stroke-width="0.1">3%</text>
<text x="545.50" y="373.90" font-size="10.2" fill="#000" textLength="50.90" lengthAdjust="spacingAndGlyphs" stroke="#000" stroke-width="0.12">Males &gt;16y</text>
<line x1="574.82" y1="375.70" x2="580.37" y2="375.70" stroke="#222" stroke-width="0.7"/>
<text x="567.00" y="406.25" font-size="8.2" fill="#000" textLength="11.80" lengthAdjust="spacingAndGlyphs" stroke="#000" stroke-width="0.12">n.s.</text>
<line x1="565.20" y1="407.40" x2="579.70" y2="407.40" stroke="#2a2a2a" stroke-width="0.8"/>
<text x="610.00" y="402.85" font-size="8.2" fill="#000" textLength="12.20" lengthAdjust="spacingAndGlyphs" stroke="#000" stroke-width="0.12">n.s.</text>
<line x1="608.50" y1="404.00" x2="622.80" y2="404.00" stroke="#2a2a2a" stroke-width="0.8"/>
<text x="656.20" y="478.75" font-size="8.2" fill="#000" textLength="13.00" lengthAdjust="spacingAndGlyphs" stroke="#000" stroke-width="0.12">n.s.</text>
<line x1="654.60" y1="479.90" x2="669.80" y2="479.90" stroke="#2a2a2a" stroke-width="0.8"/>
<text x="5.50" y="7.40" font-size="9.0" fill="#000" textLength="32.70" lengthAdjust="spacingAndGlyphs">obesity</text>
<rect x="5.80" y="14.15" width="3.20" height="3.20" fill="#92d050"/>
<text x="11.10" y="17.60" font-size="5.3" fill="#444">class I</text>
<rect x="5.80" y="21.68" width="3.20" height="3.20" fill="#ffff00"/>
<text x="11.10" y="25.10" font-size="5.3" fill="#444">class II</text>
<rect x="5.80" y="29.21" width="3.20" height="3.20" fill="#ff0000"/>
<text x="11.10" y="32.60" font-size="5.3" fill="#444">class III</text>
<rect x="5.80" y="36.74" width="3.20" height="3.20" fill="#00b0f0"/>
<text x="11.10" y="40.10" font-size="5.3" fill="#444">class IV</text>
<text x="110.30" y="32.30" font-size="17.3" fill="#000" textLength="122.40" lengthAdjust="spacingAndGlyphs" font-weight="bold">IOTF definition</text>
<text x="413.30" y="33.30" font-size="17.5" fill="#000" textLength="207.40" lengthAdjust="spacingAndGlyphs" font-weight="bold">95th perc. BMI definition</text>
</g>
</svg>
</body></html>
